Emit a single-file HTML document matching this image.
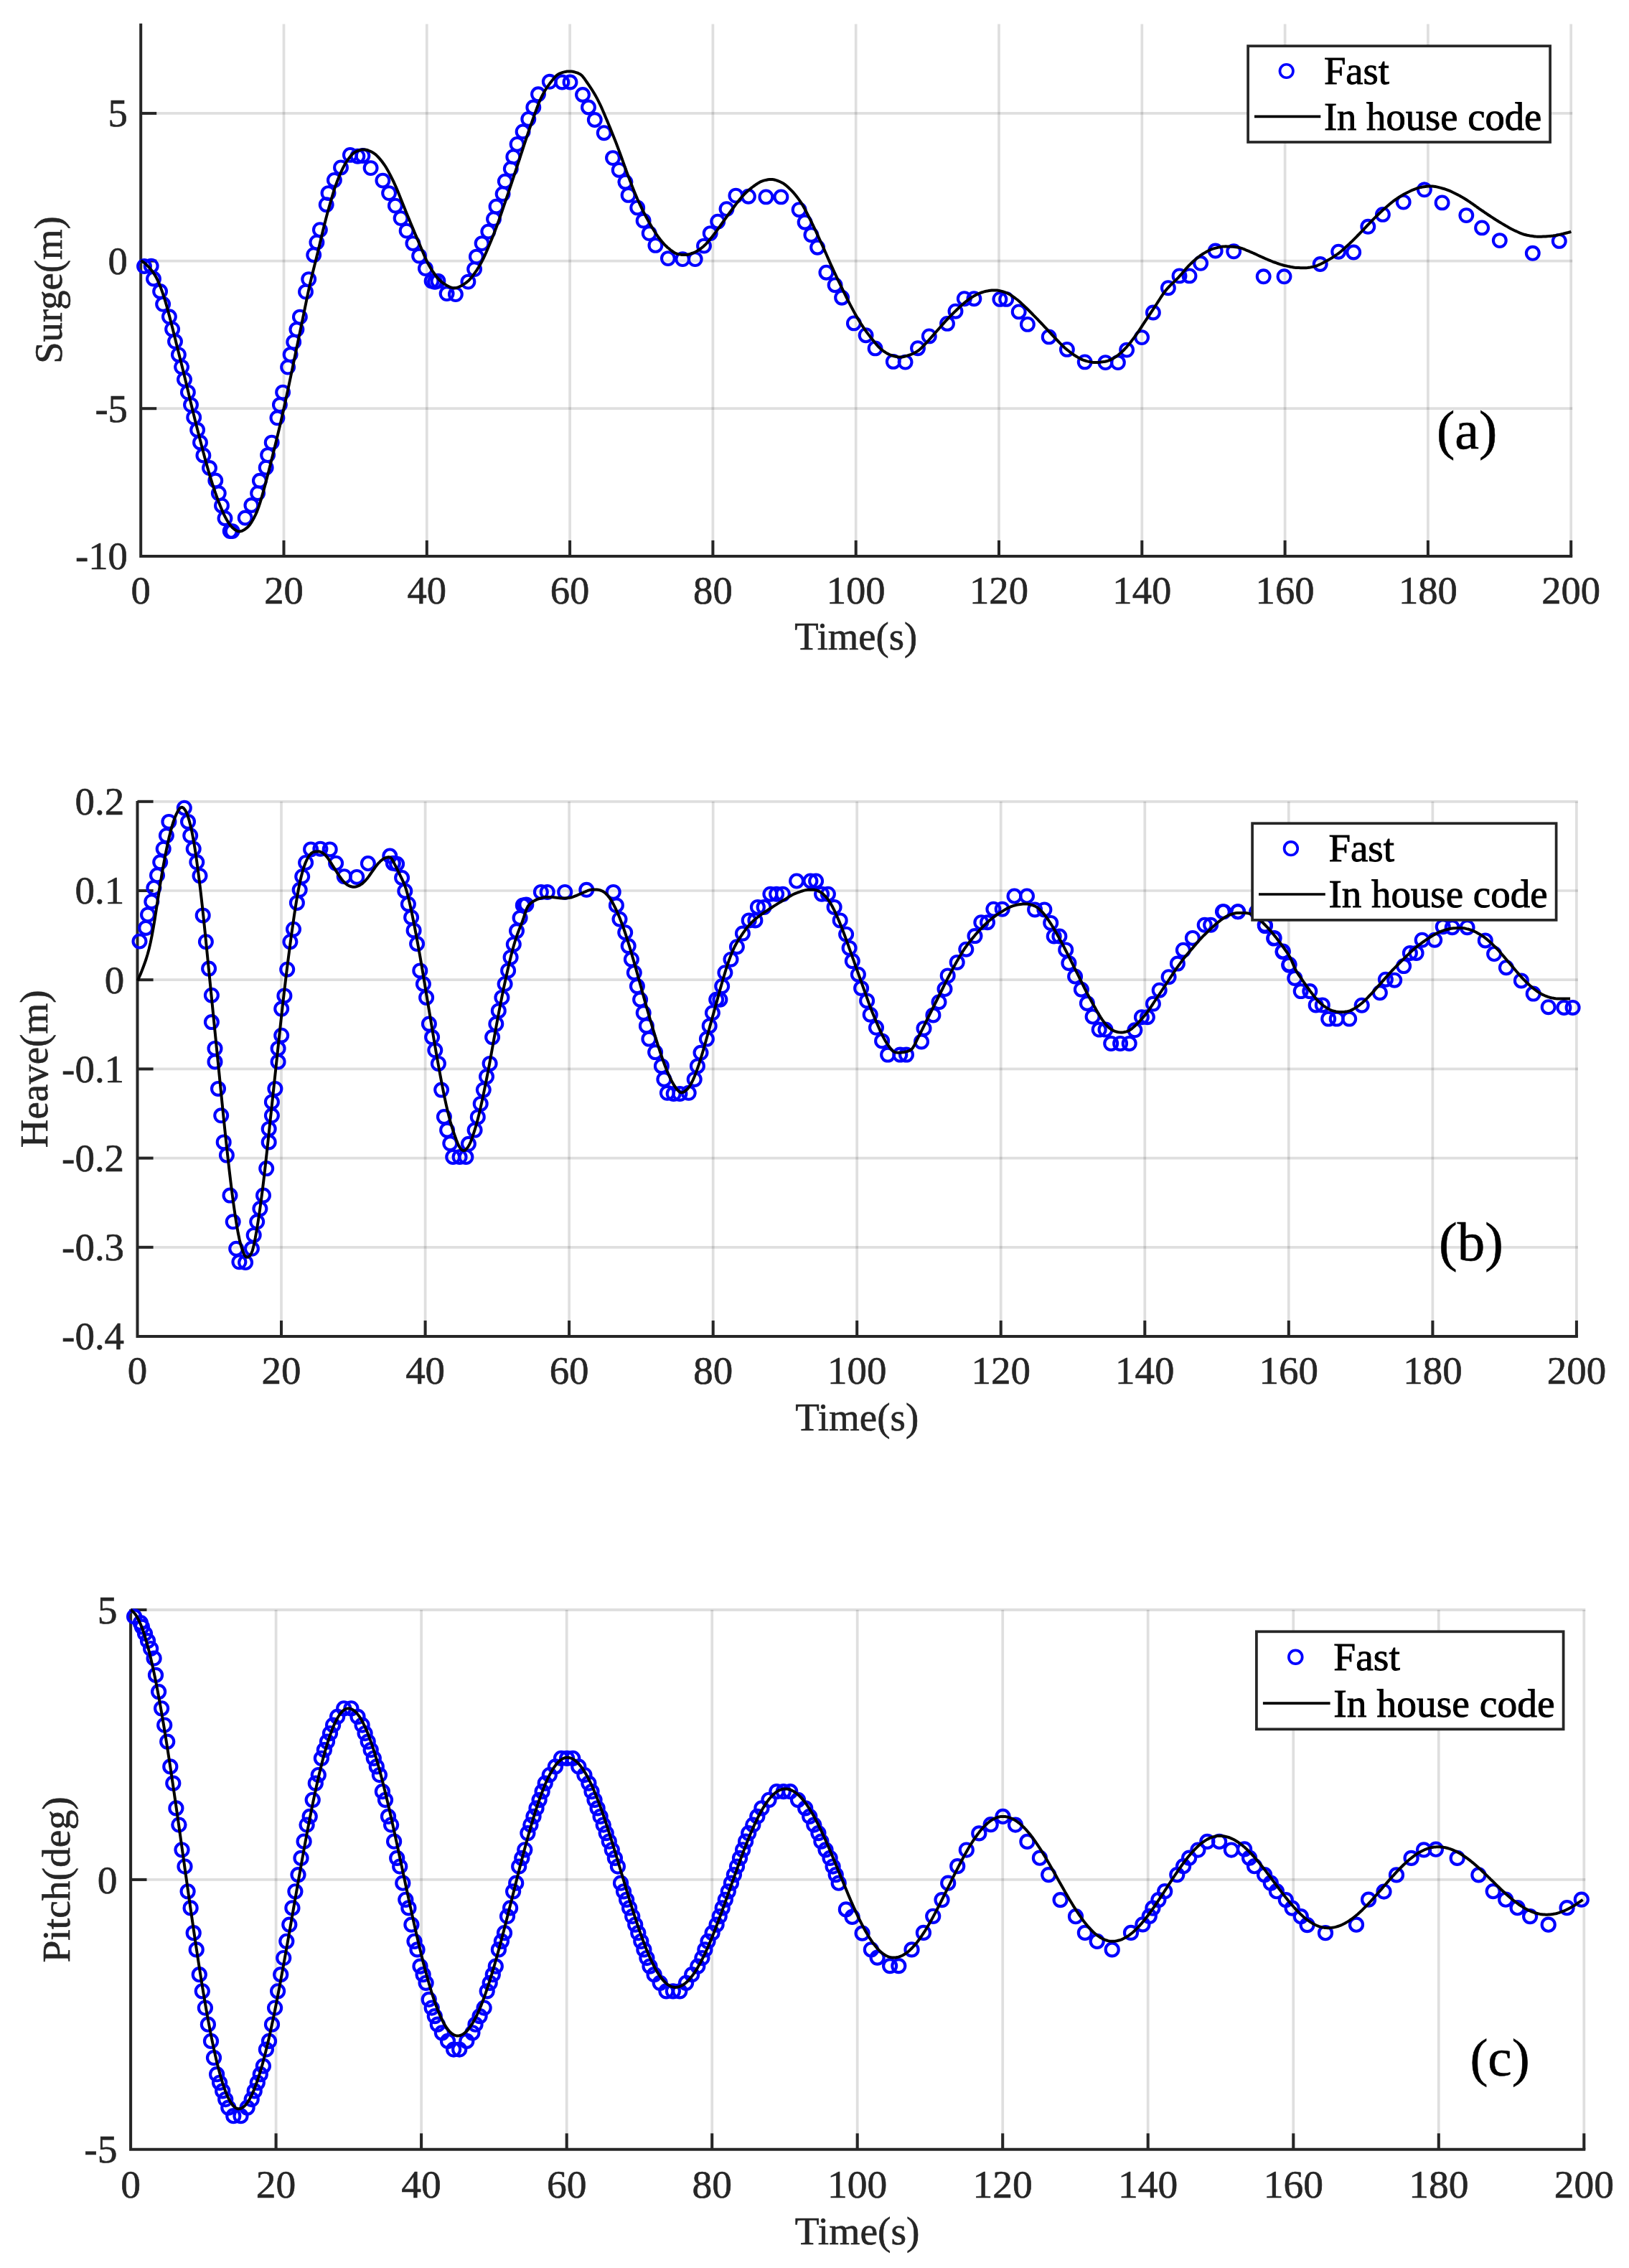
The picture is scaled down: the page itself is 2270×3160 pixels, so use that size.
<!DOCTYPE html>
<html><head><meta charset="utf-8"><title>Surge, heave and pitch response</title>
<style>html,body{margin:0;padding:0;background:#fff}svg{display:block}</style></head>
<body><svg width="2270" height="3160" viewBox="0 0 2270 3160">
<rect width="2270" height="3160" fill="#fff"/>
<g stroke="#262626" stroke-opacity="0.15" stroke-width="3.70" fill="none">
<line x1="395.5" y1="33.4" x2="395.5" y2="774.9"/>
<line x1="594.8" y1="33.4" x2="594.8" y2="774.9"/>
<line x1="794.1" y1="33.4" x2="794.1" y2="774.9"/>
<line x1="993.4" y1="33.4" x2="993.4" y2="774.9"/>
<line x1="1192.7" y1="33.4" x2="1192.7" y2="774.9"/>
<line x1="1392.0" y1="33.4" x2="1392.0" y2="774.9"/>
<line x1="1591.3" y1="33.4" x2="1591.3" y2="774.9"/>
<line x1="1790.6" y1="33.4" x2="1790.6" y2="774.9"/>
<line x1="1989.9" y1="33.4" x2="1989.9" y2="774.9"/>
<line x1="2189.2" y1="33.4" x2="2189.2" y2="774.9"/>
<line x1="196.2" y1="157.9" x2="2191.2" y2="157.9"/>
<line x1="196.2" y1="363.6" x2="2191.2" y2="363.6"/>
<line x1="196.2" y1="569.2" x2="2191.2" y2="569.2"/>
</g>
<g stroke="#262626" stroke-width="4.00" fill="none" stroke-linecap="butt">
<path d="M196.2,32.7V774.9H2191.2" stroke-linejoin="miter"/>
<line x1="395.5" y1="774.9" x2="395.5" y2="752.9"/>
<line x1="594.8" y1="774.9" x2="594.8" y2="752.9"/>
<line x1="794.1" y1="774.9" x2="794.1" y2="752.9"/>
<line x1="993.4" y1="774.9" x2="993.4" y2="752.9"/>
<line x1="1192.7" y1="774.9" x2="1192.7" y2="752.9"/>
<line x1="1392.0" y1="774.9" x2="1392.0" y2="752.9"/>
<line x1="1591.3" y1="774.9" x2="1591.3" y2="752.9"/>
<line x1="1790.6" y1="774.9" x2="1790.6" y2="752.9"/>
<line x1="1989.9" y1="774.9" x2="1989.9" y2="752.9"/>
<line x1="2189.2" y1="774.9" x2="2189.2" y2="752.9"/>
<line x1="196.2" y1="157.9" x2="218.2" y2="157.9"/>
<line x1="196.2" y1="363.6" x2="218.2" y2="363.6"/>
<line x1="196.2" y1="569.2" x2="218.2" y2="569.2"/>
</g>
<g font-family="'Liberation Serif', serif" font-size="54.00" fill="#262626" stroke="#262626" stroke-width="0.6">
<text transform="translate(196.2,840.9) scale(1.012,1)" text-anchor="middle">0</text>
<text transform="translate(395.5,840.9) scale(1.012,1)" text-anchor="middle">20</text>
<text transform="translate(594.8,840.9) scale(1.012,1)" text-anchor="middle">40</text>
<text transform="translate(794.1,840.9) scale(1.012,1)" text-anchor="middle">60</text>
<text transform="translate(993.4,840.9) scale(1.012,1)" text-anchor="middle">80</text>
<text transform="translate(1192.7,840.9) scale(1.012,1)" text-anchor="middle">100</text>
<text transform="translate(1392.0,840.9) scale(1.012,1)" text-anchor="middle">120</text>
<text transform="translate(1591.3,840.9) scale(1.012,1)" text-anchor="middle">140</text>
<text transform="translate(1790.6,840.9) scale(1.012,1)" text-anchor="middle">160</text>
<text transform="translate(1989.9,840.9) scale(1.012,1)" text-anchor="middle">180</text>
<text transform="translate(2189.2,840.9) scale(1.012,1)" text-anchor="middle">200</text>
<text transform="translate(177.9,176.2) scale(1.012,1)" text-anchor="end">5</text>
<text transform="translate(177.9,381.9) scale(1.012,1)" text-anchor="end">0</text>
<text transform="translate(177.9,587.5) scale(1.012,1)" text-anchor="end">-5</text>
<text transform="translate(177.9,793.2) scale(1.012,1)" text-anchor="end">-10</text>
<text transform="translate(1192.7,905.3) scale(1.012,1)" text-anchor="middle">Time(s)</text>
<text transform="translate(85.6,404.1) rotate(-90) scale(1.012,1)" text-anchor="middle">Surge(m)</text>
</g>
<g fill="none" stroke="#0000ff" stroke-width="4.10">
<circle cx="201.0" cy="371.0" r="8.90"/>
<circle cx="210.7" cy="370.7" r="8.90"/>
<circle cx="214.0" cy="388.5" r="8.90"/>
<circle cx="223.1" cy="406.0" r="8.90"/>
<circle cx="227.1" cy="423.8" r="8.90"/>
<circle cx="235.9" cy="441.3" r="8.90"/>
<circle cx="240.1" cy="458.7" r="8.90"/>
<circle cx="244.0" cy="475.8" r="8.90"/>
<circle cx="248.9" cy="494.2" r="8.90"/>
<circle cx="253.1" cy="511.3" r="8.90"/>
<circle cx="257.0" cy="528.8" r="8.90"/>
<circle cx="261.9" cy="546.6" r="8.90"/>
<circle cx="266.0" cy="564.1" r="8.90"/>
<circle cx="270.2" cy="581.6" r="8.90"/>
<circle cx="275.1" cy="599.0" r="8.90"/>
<circle cx="279.0" cy="616.5" r="8.90"/>
<circle cx="283.4" cy="634.5" r="8.90"/>
<circle cx="292.0" cy="652.0" r="8.90"/>
<circle cx="300.3" cy="669.5" r="8.90"/>
<circle cx="304.8" cy="687.3" r="8.90"/>
<circle cx="309.0" cy="704.4" r="8.90"/>
<circle cx="313.5" cy="722.2" r="8.90"/>
<circle cx="323.6" cy="740.1" r="8.90"/>
<circle cx="320.7" cy="740.1" r="8.90"/>
<circle cx="341.7" cy="721.5" r="8.90"/>
<circle cx="350.4" cy="704.0" r="8.90"/>
<circle cx="359.1" cy="687.2" r="8.90"/>
<circle cx="361.9" cy="669.8" r="8.90"/>
<circle cx="370.7" cy="651.6" r="8.90"/>
<circle cx="373.1" cy="634.1" r="8.90"/>
<circle cx="378.7" cy="616.6" r="8.90"/>
<circle cx="386.4" cy="582.3" r="8.90"/>
<circle cx="389.9" cy="564.1" r="8.90"/>
<circle cx="394.1" cy="546.6" r="8.90"/>
<circle cx="401.1" cy="511.6" r="8.90"/>
<circle cx="404.6" cy="494.1" r="8.90"/>
<circle cx="409.2" cy="476.6" r="8.90"/>
<circle cx="413.4" cy="459.1" r="8.90"/>
<circle cx="417.9" cy="441.6" r="8.90"/>
<circle cx="426.0" cy="406.6" r="8.90"/>
<circle cx="430.2" cy="389.1" r="8.90"/>
<circle cx="437.2" cy="355.2" r="8.90"/>
<circle cx="441.4" cy="337.7" r="8.90"/>
<circle cx="445.9" cy="320.2" r="8.90"/>
<circle cx="454.7" cy="285.2" r="8.90"/>
<circle cx="457.5" cy="269.1" r="8.90"/>
<circle cx="465.9" cy="250.9" r="8.90"/>
<circle cx="475.0" cy="233.4" r="8.90"/>
<circle cx="487.9" cy="215.9" r="8.90"/>
<circle cx="498.4" cy="217.7" r="8.90"/>
<circle cx="505.4" cy="217.0" r="8.90"/>
<circle cx="516.6" cy="234.1" r="8.90"/>
<circle cx="533.4" cy="251.6" r="8.90"/>
<circle cx="542.1" cy="269.1" r="8.90"/>
<circle cx="550.9" cy="286.6" r="8.90"/>
<circle cx="558.6" cy="304.1" r="8.90"/>
<circle cx="566.6" cy="321.6" r="8.90"/>
<circle cx="575.4" cy="339.1" r="8.90"/>
<circle cx="584.1" cy="356.6" r="8.90"/>
<circle cx="592.9" cy="374.1" r="8.90"/>
<circle cx="601.6" cy="391.6" r="8.90"/>
<circle cx="610.4" cy="391.6" r="8.90"/>
<circle cx="622.6" cy="409.1" r="8.90"/>
<circle cx="634.9" cy="410.1" r="8.90"/>
<circle cx="652.4" cy="392.6" r="8.90"/>
<circle cx="661.1" cy="375.1" r="8.90"/>
<circle cx="663.9" cy="357.6" r="8.90"/>
<circle cx="671.6" cy="339.1" r="8.90"/>
<circle cx="680.3" cy="322.7" r="8.90"/>
<circle cx="688.0" cy="305.2" r="8.90"/>
<circle cx="691.5" cy="287.7" r="8.90"/>
<circle cx="700.6" cy="270.2" r="8.90"/>
<circle cx="703.8" cy="252.7" r="8.90"/>
<circle cx="711.8" cy="235.2" r="8.90"/>
<circle cx="715.3" cy="218.4" r="8.90"/>
<circle cx="720.6" cy="200.9" r="8.90"/>
<circle cx="728.6" cy="183.4" r="8.90"/>
<circle cx="736.3" cy="165.9" r="8.90"/>
<circle cx="743.3" cy="149.5" r="8.90"/>
<circle cx="750.0" cy="131.3" r="8.90"/>
<circle cx="765.8" cy="113.8" r="8.90"/>
<circle cx="783.3" cy="114.5" r="8.90"/>
<circle cx="794.5" cy="114.5" r="8.90"/>
<circle cx="812.0" cy="132.0" r="8.90"/>
<circle cx="820.0" cy="149.5" r="8.90"/>
<circle cx="828.8" cy="167.0" r="8.90"/>
<circle cx="841.7" cy="185.2" r="8.90"/>
<circle cx="854.0" cy="220.1" r="8.90"/>
<circle cx="862.7" cy="236.9" r="8.90"/>
<circle cx="871.4" cy="253.7" r="8.90"/>
<circle cx="875.6" cy="271.9" r="8.90"/>
<circle cx="888.2" cy="289.4" r="8.90"/>
<circle cx="896.6" cy="307.6" r="8.90"/>
<circle cx="904.7" cy="325.1" r="8.90"/>
<circle cx="913.4" cy="341.9" r="8.90"/>
<circle cx="930.9" cy="360.1" r="8.90"/>
<circle cx="951.2" cy="361.1" r="8.90"/>
<circle cx="968.7" cy="361.1" r="8.90"/>
<circle cx="981.0" cy="342.6" r="8.90"/>
<circle cx="989.7" cy="325.1" r="8.90"/>
<circle cx="1000.2" cy="308.7" r="8.90"/>
<circle cx="1012.5" cy="291.2" r="8.90"/>
<circle cx="1025.4" cy="272.6" r="8.90"/>
<circle cx="1042.9" cy="273.7" r="8.90"/>
<circle cx="1067.4" cy="274.4" r="8.90"/>
<circle cx="1088.4" cy="274.4" r="8.90"/>
<circle cx="1113.6" cy="292.2" r="8.90"/>
<circle cx="1121.6" cy="309.7" r="8.90"/>
<circle cx="1130.4" cy="327.2" r="8.90"/>
<circle cx="1139.1" cy="344.7" r="8.90"/>
<circle cx="1151.4" cy="379.7" r="8.90"/>
<circle cx="1163.6" cy="397.2" r="8.90"/>
<circle cx="1173.1" cy="414.7" r="8.90"/>
<circle cx="1189.9" cy="450.4" r="8.90"/>
<circle cx="1206.6" cy="467.2" r="8.90"/>
<circle cx="1219.6" cy="485.4" r="8.90"/>
<circle cx="1244.8" cy="503.9" r="8.90"/>
<circle cx="1261.6" cy="504.6" r="8.90"/>
<circle cx="1279.0" cy="485.2" r="8.90"/>
<circle cx="1294.8" cy="468.4" r="8.90"/>
<circle cx="1320.0" cy="450.9" r="8.90"/>
<circle cx="1331.5" cy="433.7" r="8.90"/>
<circle cx="1343.8" cy="416.2" r="8.90"/>
<circle cx="1357.4" cy="416.2" r="8.90"/>
<circle cx="1393.4" cy="416.9" r="8.90"/>
<circle cx="1402.2" cy="416.9" r="8.90"/>
<circle cx="1419.7" cy="434.4" r="8.90"/>
<circle cx="1431.9" cy="451.9" r="8.90"/>
<circle cx="1461.7" cy="469.4" r="8.90"/>
<circle cx="1486.9" cy="486.9" r="8.90"/>
<circle cx="1511.7" cy="504.4" r="8.90"/>
<circle cx="1540.4" cy="505.1" r="8.90"/>
<circle cx="1557.9" cy="505.1" r="8.90"/>
<circle cx="1570.1" cy="487.6" r="8.90"/>
<circle cx="1591.1" cy="470.1" r="8.90"/>
<circle cx="1606.9" cy="435.5" r="8.90"/>
<circle cx="1627.9" cy="401.2" r="8.90"/>
<circle cx="1643.5" cy="384.4" r="8.90"/>
<circle cx="1657.5" cy="384.4" r="8.90"/>
<circle cx="1673.1" cy="366.8" r="8.90"/>
<circle cx="1693.7" cy="349.5" r="8.90"/>
<circle cx="1719.2" cy="350.3" r="8.90"/>
<circle cx="1760.7" cy="385.3" r="8.90"/>
<circle cx="1789.5" cy="385.3" r="8.90"/>
<circle cx="1839.7" cy="368.0" r="8.90"/>
<circle cx="1865.2" cy="350.7" r="8.90"/>
<circle cx="1886.2" cy="351.5" r="8.90"/>
<circle cx="1906.3" cy="315.8" r="8.90"/>
<circle cx="1926.9" cy="298.9" r="8.90"/>
<circle cx="1955.7" cy="281.6" r="8.90"/>
<circle cx="1984.9" cy="264.3" r="8.90"/>
<circle cx="2009.6" cy="282.4" r="8.90"/>
<circle cx="2043.3" cy="300.1" r="8.90"/>
<circle cx="2065.1" cy="317.4" r="8.90"/>
<circle cx="2089.8" cy="335.1" r="8.90"/>
<circle cx="2135.8" cy="352.8" r="8.90"/>
<circle cx="2172.8" cy="335.9" r="8.90"/>
<circle cx="606.0" cy="392.8" r="8.90"/>
</g>
<path d="M196.1,362.9L198.1,364.1L200.1,365.5L202.1,367.0L204.1,368.8L206.1,370.8L208.1,372.9L210.1,375.2L212.1,377.7L214.1,380.6L216.1,383.8L218.1,387.3L220.1,391.4L222.1,396.0L224.1,401.1L226.1,406.7L228.1,412.6L230.1,419.0L232.1,425.8L234.1,433.1L236.1,440.6L238.1,448.3L240.1,456.1L242.1,464.0L244.1,472.1L246.1,480.2L248.1,488.2L250.1,496.2L252.1,504.1L254.1,512.1L256.1,520.2L258.1,528.4L260.1,536.7L262.1,545.1L264.1,553.6L266.1,562.0L268.1,570.2L270.1,578.4L272.1,586.4L274.1,594.4L276.1,602.2L278.1,610.1L280.1,617.8L282.1,625.5L284.1,633.0L286.1,640.4L288.1,647.6L290.1,654.7L292.1,661.6L294.1,668.2L296.1,674.6L298.1,680.7L300.1,686.6L302.1,692.2L304.1,697.6L306.1,702.7L308.1,707.7L310.1,712.4L312.1,716.9L314.1,720.9L316.1,724.5L318.1,727.8L320.1,730.7L322.1,733.3L324.1,735.4L326.1,737.1L328.1,738.5L330.1,739.6L332.1,740.3L334.1,740.4L336.1,740.1L338.1,739.3L340.1,738.2L342.1,736.9L344.1,735.4L346.1,733.5L348.1,731.2L350.1,728.2L352.1,724.8L354.1,721.2L356.1,717.1L358.1,712.6L360.1,707.4L362.1,701.4L364.1,694.8L366.1,687.8L368.1,680.6L370.1,673.2L372.1,665.6L374.1,657.9L376.1,650.0L378.1,642.1L380.1,634.1L382.1,626.0L384.1,617.8L386.1,609.6L388.1,601.3L390.1,592.9L392.1,584.3L394.1,575.6L396.1,566.6L398.1,557.5L400.1,548.2L402.1,538.8L404.1,529.4L406.1,519.9L408.1,510.2L410.1,500.6L412.1,491.0L414.1,481.3L416.1,471.7L418.1,462.1L420.1,452.5L422.1,442.9L424.1,433.2L426.1,423.4L428.1,413.6L430.1,404.1L432.1,395.1L434.1,386.6L436.1,378.5L438.1,370.6L440.1,362.6L442.1,354.4L444.1,346.1L446.1,337.7L448.1,329.3L450.1,321.0L452.1,312.9L454.1,305.1L456.1,297.6L458.1,290.4L460.1,283.2L462.1,276.3L464.1,269.5L466.1,263.2L468.1,257.3L470.1,251.9L472.1,246.9L474.1,242.2L476.1,237.8L478.1,233.7L480.1,229.9L482.1,226.5L484.1,223.5L486.1,220.7L488.1,218.1L490.1,215.8L492.1,213.8L494.1,212.3L496.1,211.2L498.1,210.4L500.1,209.6L502.1,209.0L504.1,208.6L506.1,208.4L508.1,208.4L510.1,208.7L512.1,209.2L514.1,210.0L516.1,210.8L518.1,211.8L520.1,212.9L522.1,214.3L524.1,215.9L526.1,217.9L528.1,220.0L530.1,222.4L532.1,224.8L534.1,227.5L536.1,230.3L538.1,233.5L540.1,236.9L542.1,240.6L544.1,244.4L546.1,248.4L548.1,252.5L550.1,256.8L552.1,261.3L554.1,266.1L556.1,271.0L558.1,276.0L560.1,281.1L562.1,286.1L564.1,291.0L566.1,295.9L568.1,300.7L570.1,305.6L572.1,310.4L574.1,315.3L576.1,320.1L578.1,324.9L580.1,329.6L582.1,334.3L584.1,339.0L586.1,343.7L588.1,348.6L590.1,353.3L592.1,358.0L594.1,362.4L596.1,366.5L598.1,370.3L600.1,373.7L602.1,376.8L604.1,379.7L606.1,382.5L608.1,385.2L610.1,387.6L612.1,389.8L614.1,391.7L616.1,393.4L618.1,394.8L620.1,396.1L622.1,397.4L624.1,398.5L626.1,399.5L628.1,400.3L630.1,400.9L632.1,401.2L634.1,401.2L636.1,400.9L638.1,400.3L640.1,399.5L642.1,398.5L644.1,397.4L646.1,396.1L648.1,394.9L650.1,393.4L652.1,391.8L654.1,389.8L656.1,387.6L658.1,385.1L660.1,382.5L662.1,379.7L664.1,376.8L666.1,373.7L668.1,370.5L670.1,366.9L672.1,363.1L674.1,359.0L676.1,354.7L678.1,350.2L680.1,345.5L682.1,340.7L684.1,335.9L686.1,331.0L688.1,326.0L690.1,320.8L692.1,315.5L694.1,310.0L696.1,304.3L698.1,298.6L700.1,292.8L702.1,286.9L704.1,281.1L706.1,275.2L708.1,269.3L710.1,263.4L712.1,257.4L714.1,251.3L716.1,245.3L718.1,239.2L720.1,233.2L722.1,227.1L724.1,221.1L726.1,215.0L728.1,208.9L730.1,202.7L732.1,196.7L734.1,190.6L736.1,184.7L738.1,178.9L740.1,173.2L742.1,167.5L744.1,161.8L746.1,156.2L748.1,150.7L750.1,145.5L752.1,140.6L754.1,136.2L756.1,132.1L758.1,128.5L760.1,125.1L762.1,122.0L764.1,119.1L766.1,116.3L768.1,113.7L770.1,111.2L772.1,108.7L774.1,106.5L776.1,104.7L778.1,103.3L780.1,102.4L782.1,101.6L784.1,100.9L786.1,100.4L788.1,99.9L790.1,99.6L792.1,99.4L794.1,99.4L796.1,99.5L798.1,99.8L800.1,100.2L802.1,100.8L804.1,101.4L806.1,102.2L808.1,103.2L810.1,104.6L812.1,106.7L814.1,109.2L816.1,112.1L818.1,115.0L820.1,117.8L822.1,120.8L824.1,123.8L826.1,127.0L828.1,130.3L830.1,133.8L832.1,137.4L834.1,141.3L836.1,145.4L838.1,149.7L840.1,154.2L842.1,158.9L844.1,163.7L846.1,168.4L848.1,173.2L850.1,178.0L852.1,182.9L854.1,187.9L856.1,193.0L858.1,198.1L860.1,203.3L862.1,208.6L864.1,214.0L866.1,219.5L868.1,225.1L870.1,230.7L872.1,236.2L874.1,241.7L876.1,247.0L878.1,252.2L880.1,257.4L882.1,262.5L884.1,267.5L886.1,272.3L888.1,277.0L890.1,281.4L892.1,285.7L894.1,289.9L896.1,294.0L898.1,297.9L900.1,301.7L902.1,305.4L904.1,309.0L906.1,312.5L908.1,316.0L910.1,319.3L912.1,322.5L914.1,325.6L916.1,328.5L918.1,331.2L920.1,333.8L922.1,336.2L924.1,338.6L926.1,340.8L928.1,342.8L930.1,344.7L932.1,346.3L934.1,348.0L936.1,349.5L938.1,350.9L940.1,352.2L942.1,353.2L944.1,353.9L946.1,354.3L948.1,354.6L950.1,354.9L952.1,355.1L954.1,355.1L956.1,355.1L958.1,354.8L960.1,354.3L962.1,353.7L964.1,353.0L966.1,352.3L968.1,351.5L970.1,350.5L972.1,349.3L974.1,348.0L976.1,346.6L978.1,345.1L980.1,343.4L982.1,341.6L984.1,339.6L986.1,337.4L988.1,335.1L990.1,332.6L992.1,330.2L994.1,327.6L996.1,325.1L998.1,322.4L1000.1,319.6L1002.1,316.8L1004.1,314.0L1006.1,311.2L1008.1,308.4L1010.1,305.6L1012.1,302.8L1014.1,300.0L1016.1,297.3L1018.1,294.5L1020.1,291.8L1022.1,289.2L1024.1,286.5L1026.1,283.9L1028.1,281.2L1030.1,278.7L1032.1,276.2L1034.1,273.9L1036.1,271.8L1038.1,269.7L1040.1,267.8L1042.1,266.0L1044.1,264.2L1046.1,262.6L1048.1,261.0L1050.1,259.5L1052.1,258.1L1054.1,256.7L1056.1,255.4L1058.1,254.2L1060.1,253.1L1062.1,252.3L1064.1,251.6L1066.1,251.1L1068.1,250.7L1070.1,250.3L1072.1,250.1L1074.1,250.0L1076.1,250.0L1078.1,250.2L1080.1,250.7L1082.1,251.3L1084.1,252.0L1086.1,252.8L1088.1,253.7L1090.1,254.7L1092.1,255.9L1094.1,257.4L1096.1,259.0L1098.1,260.8L1100.1,262.7L1102.1,264.7L1104.1,266.7L1106.1,268.9L1108.1,271.2L1110.1,273.7L1112.1,276.4L1114.1,279.1L1116.1,282.1L1118.1,285.2L1120.1,288.7L1122.1,292.3L1124.1,296.1L1126.1,300.1L1128.1,304.1L1130.1,308.1L1132.1,312.2L1134.1,316.3L1136.1,320.5L1138.1,324.8L1140.1,329.1L1142.1,333.5L1144.1,337.8L1146.1,342.3L1148.1,346.7L1150.1,351.3L1152.1,355.8L1154.1,360.4L1156.1,364.9L1158.1,369.3L1160.1,373.7L1162.1,378.0L1164.1,382.3L1166.1,386.6L1168.1,390.8L1170.1,395.0L1172.1,399.1L1174.1,403.2L1176.1,407.3L1178.1,411.4L1180.1,415.5L1182.1,419.4L1184.1,423.3L1186.1,427.1L1188.1,430.9L1190.1,434.6L1192.1,438.2L1194.1,441.7L1196.1,445.2L1198.1,448.5L1200.1,451.7L1202.1,454.7L1204.1,457.7L1206.1,460.5L1208.1,463.3L1210.1,465.9L1212.1,468.5L1214.1,471.1L1216.1,473.6L1218.1,476.1L1220.1,478.5L1222.1,480.9L1224.1,483.1L1226.1,485.1L1228.1,486.9L1230.1,488.4L1232.1,489.8L1234.1,491.1L1236.1,492.4L1238.1,493.4L1240.1,494.3L1242.1,495.0L1244.1,495.7L1246.1,496.2L1248.1,496.7L1250.1,497.1L1252.1,497.4L1254.1,497.5L1256.1,497.4L1258.1,497.2L1260.1,496.7L1262.1,496.2L1264.1,495.6L1266.1,495.0L1268.1,494.3L1270.1,493.6L1272.1,492.7L1274.1,491.8L1276.1,490.7L1278.1,489.6L1280.1,488.2L1282.1,486.5L1284.1,484.7L1286.1,482.6L1288.1,480.5L1290.1,478.4L1292.1,476.3L1294.1,474.1L1296.1,471.9L1298.1,469.7L1300.1,467.4L1302.1,465.1L1304.1,462.8L1306.1,460.5L1308.1,458.2L1310.1,456.0L1312.1,453.7L1314.1,451.4L1316.1,449.1L1318.1,446.9L1320.1,444.8L1322.1,442.7L1324.1,440.6L1326.1,438.6L1328.1,436.6L1330.1,434.6L1332.1,432.7L1334.1,430.8L1336.1,428.9L1338.1,427.1L1340.1,425.2L1342.1,423.5L1344.1,421.7L1346.1,420.1L1348.1,418.6L1350.1,417.1L1352.1,415.7L1354.1,414.4L1356.1,413.1L1358.1,411.9L1360.1,410.8L1362.1,409.9L1364.1,409.0L1366.1,408.2L1368.1,407.5L1370.1,406.8L1372.1,406.2L1374.1,405.8L1376.1,405.4L1378.1,405.1L1380.1,404.8L1382.1,404.6L1384.1,404.4L1386.1,404.4L1388.1,404.4L1390.1,404.6L1392.1,405.0L1394.1,405.4L1396.1,405.9L1398.1,406.5L1400.1,407.1L1402.1,407.8L1404.1,408.7L1406.1,409.7L1408.1,410.9L1410.1,412.2L1412.1,413.6L1414.1,415.0L1416.1,416.5L1418.1,418.0L1420.1,419.7L1422.1,421.5L1424.1,423.4L1426.1,425.2L1428.1,427.1L1430.1,429.0L1432.1,431.0L1434.1,433.0L1436.1,435.0L1438.1,437.0L1440.1,439.1L1442.1,441.1L1444.1,443.2L1446.1,445.2L1448.1,447.3L1450.1,449.4L1452.1,451.5L1454.1,453.7L1456.1,455.8L1458.1,457.9L1460.1,460.1L1462.1,462.3L1464.1,464.4L1466.1,466.6L1468.1,468.7L1470.1,470.8L1472.1,472.9L1474.1,475.0L1476.1,477.1L1478.1,479.2L1480.1,481.2L1482.1,483.1L1484.1,484.9L1486.1,486.6L1488.1,488.2L1490.1,489.8L1492.1,491.4L1494.1,492.8L1496.1,494.2L1498.1,495.5L1500.1,496.7L1502.1,497.9L1504.1,499.0L1506.1,500.1L1508.1,501.1L1510.1,501.9L1512.1,502.5L1514.1,503.1L1516.1,503.6L1518.1,504.0L1520.1,504.4L1522.1,504.8L1524.1,505.0L1526.1,505.1L1528.1,505.1L1530.1,505.0L1532.1,504.8L1534.1,504.6L1536.1,504.3L1538.1,504.1L1540.1,503.7L1542.1,503.3L1544.1,502.7L1546.1,501.9L1548.1,500.9L1550.1,499.9L1552.1,498.7L1554.1,497.5L1556.1,496.2L1558.1,494.8L1560.1,493.1L1562.1,491.4L1564.1,489.5L1566.1,487.5L1568.1,485.4L1570.1,483.3L1572.1,481.0L1574.1,478.6L1576.1,476.0L1578.1,473.4L1580.1,470.8L1582.1,468.0L1584.1,465.2L1586.1,462.3L1588.1,459.3L1590.1,456.3L1592.1,453.2L1594.1,450.1L1596.1,447.1L1598.1,444.1L1600.1,441.1L1602.1,438.1L1604.1,435.1L1606.1,432.1L1608.1,429.1L1610.1,426.1L1612.1,423.0L1614.1,419.9L1616.1,416.7L1618.1,413.6L1620.1,410.6L1622.1,407.7L1624.1,405.1L1626.1,402.7L1628.1,400.5L1630.1,398.4L1632.1,396.4L1634.1,394.5L1636.1,392.6L1638.1,390.7L1640.1,388.7L1642.1,386.6L1644.1,384.4L1646.1,382.2L1648.1,379.8L1650.1,377.5L1652.1,375.1L1654.1,372.8L1656.1,370.7L1658.1,368.6L1660.1,366.7L1662.1,364.8L1664.1,363.0L1666.1,361.3L1668.1,359.6L1670.1,358.0L1672.1,356.5L1674.1,355.1L1676.1,353.8L1678.1,352.6L1680.1,351.4L1682.1,350.3L1684.1,349.2L1686.1,348.2L1688.1,347.4L1690.1,346.7L1692.1,346.1L1694.1,345.6L1696.1,345.1L1698.1,344.6L1700.1,344.2L1702.1,343.8L1704.1,343.6L1706.1,343.4L1708.1,343.3L1710.1,343.4L1712.1,343.4L1714.1,343.5L1716.1,343.7L1718.1,343.8L1720.1,344.0L1722.1,344.3L1724.1,344.5L1726.1,344.9L1728.1,345.3L1730.1,345.9L1732.1,346.6L1734.1,347.4L1736.1,348.3L1738.1,349.1L1740.1,349.9L1742.1,350.8L1744.1,351.6L1746.1,352.5L1748.1,353.4L1750.1,354.3L1752.1,355.3L1754.1,356.2L1756.1,357.1L1758.1,358.0L1760.1,358.9L1762.1,359.8L1764.1,360.7L1766.1,361.5L1768.1,362.4L1770.1,363.2L1772.1,364.0L1774.1,364.8L1776.1,365.5L1778.1,366.2L1780.1,367.0L1782.1,367.7L1784.1,368.3L1786.1,368.9L1788.1,369.5L1790.1,370.0L1792.1,370.4L1794.1,370.9L1796.1,371.3L1798.1,371.7L1800.1,372.1L1802.1,372.4L1804.1,372.7L1806.1,372.9L1808.1,373.0L1810.1,373.1L1812.1,373.2L1814.1,373.3L1816.1,373.3L1818.1,373.3L1820.1,373.2L1822.1,373.0L1824.1,372.7L1826.1,372.4L1828.1,372.0L1830.1,371.6L1832.1,371.1L1834.1,370.5L1836.1,369.8L1838.1,368.9L1840.1,368.0L1842.1,367.0L1844.1,365.9L1846.1,364.8L1848.1,363.8L1850.1,362.7L1852.1,361.6L1854.1,360.4L1856.1,359.2L1858.1,357.9L1860.1,356.6L1862.1,355.2L1864.1,353.8L1866.1,352.3L1868.1,350.7L1870.1,349.0L1872.1,347.2L1874.1,345.4L1876.1,343.6L1878.1,341.7L1880.1,339.9L1882.1,338.0L1884.1,336.1L1886.1,334.1L1888.1,332.1L1890.1,330.1L1892.1,328.0L1894.1,326.0L1896.1,323.9L1898.1,321.9L1900.1,319.8L1902.1,317.7L1904.1,315.5L1906.1,313.4L1908.1,311.3L1910.1,309.2L1912.1,307.1L1914.1,305.1L1916.1,303.1L1918.1,301.1L1920.1,299.2L1922.1,297.3L1924.1,295.4L1926.1,293.5L1928.1,291.7L1930.1,289.9L1932.1,288.2L1934.1,286.5L1936.1,284.8L1938.1,283.1L1940.1,281.5L1942.1,279.9L1944.1,278.5L1946.1,277.1L1948.1,275.7L1950.1,274.4L1952.1,273.2L1954.1,272.0L1956.1,270.8L1958.1,269.7L1960.1,268.7L1962.1,267.7L1964.1,266.8L1966.1,265.8L1968.1,264.9L1970.1,264.1L1972.1,263.3L1974.1,262.5L1976.1,261.9L1978.1,261.4L1980.1,261.0L1982.1,260.6L1984.1,260.3L1986.1,260.0L1988.1,259.8L1990.1,259.6L1992.1,259.5L1994.1,259.4L1996.1,259.5L1998.1,259.7L2000.1,260.0L2002.1,260.4L2004.1,260.9L2006.1,261.4L2008.1,261.9L2010.1,262.5L2012.1,263.0L2014.1,263.6L2016.1,264.3L2018.1,265.1L2020.1,265.9L2022.1,266.8L2024.1,267.8L2026.1,268.7L2028.1,269.7L2030.1,270.7L2032.1,271.8L2034.1,272.8L2036.1,274.0L2038.1,275.1L2040.1,276.3L2042.1,277.5L2044.1,278.8L2046.1,280.1L2048.1,281.4L2050.1,282.8L2052.1,284.2L2054.1,285.6L2056.1,287.0L2058.1,288.5L2060.1,289.9L2062.1,291.3L2064.1,292.7L2066.1,294.0L2068.1,295.4L2070.1,296.8L2072.1,298.1L2074.1,299.5L2076.1,300.8L2078.1,302.1L2080.1,303.4L2082.1,304.7L2084.1,306.0L2086.1,307.2L2088.1,308.5L2090.1,309.7L2092.1,310.9L2094.1,312.1L2096.1,313.3L2098.1,314.5L2100.1,315.6L2102.1,316.8L2104.1,317.9L2106.1,319.0L2108.1,320.0L2110.1,321.0L2112.1,321.9L2114.1,322.8L2116.1,323.7L2118.1,324.6L2120.1,325.4L2122.1,326.1L2124.1,326.8L2126.1,327.3L2128.1,327.8L2130.1,328.1L2132.1,328.5L2134.1,328.8L2136.1,329.1L2138.1,329.4L2140.1,329.6L2142.1,329.7L2144.1,329.7L2146.1,329.7L2148.1,329.7L2150.1,329.6L2152.1,329.5L2154.1,329.4L2156.1,329.2L2158.1,329.1L2160.1,328.9L2162.1,328.7L2164.1,328.5L2166.1,328.2L2168.1,327.9L2170.1,327.5L2172.1,327.1L2174.1,326.6L2176.1,326.2L2178.1,325.8L2180.1,325.3L2182.1,324.8L2184.1,324.3L2186.1,323.7L2188.1,323.2L2189.3,322.7" fill="none" stroke="#000" stroke-width="4.00" stroke-linejoin="round" stroke-linecap="butt"/>
<rect x="1739.1" y="64.1" width="421.0" height="133.9" fill="#fff" stroke="#262626" stroke-width="3.70"/>
<circle cx="1792.7" cy="99.0" r="9.25" fill="none" stroke="#0000ff" stroke-width="3.70"/>
<line x1="1748.0" y1="162.4" x2="1840.3" y2="162.4" stroke="#000" stroke-width="3.60"/>
<g font-family="'Liberation Serif', serif" font-size="54.00" fill="#000" stroke="#000" stroke-width="0.9">
<text transform="translate(1844.9,117.1) scale(1.012,1)" text-anchor="start">Fast</text>
<text transform="translate(1844.9,180.6) scale(1.012,1)" text-anchor="start">In house code</text>
</g>
<text x="2044.2" y="624.7" text-anchor="middle" font-family="'Liberation Serif', serif" font-size="76.0" fill="#000" stroke="#000" stroke-width="0.6">(a)</text>
<g stroke="#262626" stroke-opacity="0.15" stroke-width="3.72" fill="none">
<line x1="392.0" y1="1116.8" x2="392.0" y2="1862.0"/>
<line x1="592.6" y1="1116.8" x2="592.6" y2="1862.0"/>
<line x1="793.1" y1="1116.8" x2="793.1" y2="1862.0"/>
<line x1="993.7" y1="1116.8" x2="993.7" y2="1862.0"/>
<line x1="1194.2" y1="1116.8" x2="1194.2" y2="1862.0"/>
<line x1="1394.7" y1="1116.8" x2="1394.7" y2="1862.0"/>
<line x1="1595.3" y1="1116.8" x2="1595.3" y2="1862.0"/>
<line x1="1795.8" y1="1116.8" x2="1795.8" y2="1862.0"/>
<line x1="1996.4" y1="1116.8" x2="1996.4" y2="1862.0"/>
<line x1="2196.9" y1="1116.8" x2="2196.9" y2="1862.0"/>
<line x1="191.5" y1="1116.8" x2="2198.9" y2="1116.8"/>
<line x1="191.5" y1="1241.0" x2="2198.9" y2="1241.0"/>
<line x1="191.5" y1="1365.2" x2="2198.9" y2="1365.2"/>
<line x1="191.5" y1="1489.4" x2="2198.9" y2="1489.4"/>
<line x1="191.5" y1="1613.6" x2="2198.9" y2="1613.6"/>
<line x1="191.5" y1="1737.8" x2="2198.9" y2="1737.8"/>
</g>
<g stroke="#262626" stroke-width="4.02" fill="none" stroke-linecap="butt">
<path d="M191.5,1116.1V1862.0H2198.9" stroke-linejoin="miter"/>
<line x1="392.0" y1="1862.0" x2="392.0" y2="1839.9"/>
<line x1="592.6" y1="1862.0" x2="592.6" y2="1839.9"/>
<line x1="793.1" y1="1862.0" x2="793.1" y2="1839.9"/>
<line x1="993.7" y1="1862.0" x2="993.7" y2="1839.9"/>
<line x1="1194.2" y1="1862.0" x2="1194.2" y2="1839.9"/>
<line x1="1394.7" y1="1862.0" x2="1394.7" y2="1839.9"/>
<line x1="1595.3" y1="1862.0" x2="1595.3" y2="1839.9"/>
<line x1="1795.8" y1="1862.0" x2="1795.8" y2="1839.9"/>
<line x1="1996.4" y1="1862.0" x2="1996.4" y2="1839.9"/>
<line x1="2196.9" y1="1862.0" x2="2196.9" y2="1839.9"/>
<line x1="191.5" y1="1116.8" x2="213.6" y2="1116.8"/>
<line x1="191.5" y1="1241.0" x2="213.6" y2="1241.0"/>
<line x1="191.5" y1="1365.2" x2="213.6" y2="1365.2"/>
<line x1="191.5" y1="1489.4" x2="213.6" y2="1489.4"/>
<line x1="191.5" y1="1613.6" x2="213.6" y2="1613.6"/>
<line x1="191.5" y1="1737.8" x2="213.6" y2="1737.8"/>
</g>
<g font-family="'Liberation Serif', serif" font-size="54.32" fill="#262626" stroke="#262626" stroke-width="0.6">
<text transform="translate(191.5,1928.4) scale(1.012,1)" text-anchor="middle">0</text>
<text transform="translate(392.0,1928.4) scale(1.012,1)" text-anchor="middle">20</text>
<text transform="translate(592.6,1928.4) scale(1.012,1)" text-anchor="middle">40</text>
<text transform="translate(793.1,1928.4) scale(1.012,1)" text-anchor="middle">60</text>
<text transform="translate(993.7,1928.4) scale(1.012,1)" text-anchor="middle">80</text>
<text transform="translate(1194.2,1928.4) scale(1.012,1)" text-anchor="middle">100</text>
<text transform="translate(1394.7,1928.4) scale(1.012,1)" text-anchor="middle">120</text>
<text transform="translate(1595.3,1928.4) scale(1.012,1)" text-anchor="middle">140</text>
<text transform="translate(1795.8,1928.4) scale(1.012,1)" text-anchor="middle">160</text>
<text transform="translate(1996.4,1928.4) scale(1.012,1)" text-anchor="middle">180</text>
<text transform="translate(2196.9,1928.4) scale(1.012,1)" text-anchor="middle">200</text>
<text transform="translate(173.1,1135.2) scale(1.012,1)" text-anchor="end">0.2</text>
<text transform="translate(173.1,1259.4) scale(1.012,1)" text-anchor="end">0.1</text>
<text transform="translate(173.1,1383.6) scale(1.012,1)" text-anchor="end">0</text>
<text transform="translate(173.1,1507.8) scale(1.012,1)" text-anchor="end">-0.1</text>
<text transform="translate(173.1,1632.0) scale(1.012,1)" text-anchor="end">-0.2</text>
<text transform="translate(173.1,1756.2) scale(1.012,1)" text-anchor="end">-0.3</text>
<text transform="translate(173.1,1880.4) scale(1.012,1)" text-anchor="end">-0.4</text>
<text transform="translate(1194.2,1993.2) scale(1.012,1)" text-anchor="middle">Time(s)</text>
<text transform="translate(65.7,1489.4) rotate(-90) scale(1.012,1)" text-anchor="middle">Heave(m)</text>
</g>
<g fill="none" stroke="#0000ff" stroke-width="4.12">
<circle cx="194.5" cy="1311.5" r="8.95"/>
<circle cx="203.2" cy="1292.9" r="8.95"/>
<circle cx="206.0" cy="1274.4" r="8.95"/>
<circle cx="211.3" cy="1256.2" r="8.95"/>
<circle cx="214.4" cy="1237.0" r="8.95"/>
<circle cx="219.0" cy="1219.5" r="8.95"/>
<circle cx="223.2" cy="1201.3" r="8.95"/>
<circle cx="227.7" cy="1182.7" r="8.95"/>
<circle cx="231.9" cy="1164.2" r="8.95"/>
<circle cx="235.4" cy="1144.9" r="8.95"/>
<circle cx="256.8" cy="1125.7" r="8.95"/>
<circle cx="262.0" cy="1144.9" r="8.95"/>
<circle cx="265.2" cy="1164.2" r="8.95"/>
<circle cx="269.7" cy="1182.7" r="8.95"/>
<circle cx="274.3" cy="1201.3" r="8.95"/>
<circle cx="278.5" cy="1220.2" r="8.95"/>
<circle cx="282.7" cy="1275.4" r="8.95"/>
<circle cx="286.9" cy="1312.2" r="8.95"/>
<circle cx="291.1" cy="1349.6" r="8.95"/>
<circle cx="294.9" cy="1386.7" r="8.95"/>
<circle cx="294.9" cy="1424.1" r="8.95"/>
<circle cx="299.5" cy="1460.9" r="8.95"/>
<circle cx="299.5" cy="1479.4" r="8.95"/>
<circle cx="304.0" cy="1516.9" r="8.95"/>
<circle cx="308.2" cy="1554.3" r="8.95"/>
<circle cx="311.7" cy="1591.4" r="8.95"/>
<circle cx="315.9" cy="1609.6" r="8.95"/>
<circle cx="320.5" cy="1665.6" r="8.95"/>
<circle cx="324.7" cy="1702.3" r="8.95"/>
<circle cx="329.2" cy="1739.8" r="8.95"/>
<circle cx="333.4" cy="1758.3" r="8.95"/>
<circle cx="342.1" cy="1759.0" r="8.95"/>
<circle cx="350.9" cy="1739.8" r="8.95"/>
<circle cx="353.7" cy="1720.9" r="8.95"/>
<circle cx="358.2" cy="1702.3" r="8.95"/>
<circle cx="362.4" cy="1684.1" r="8.95"/>
<circle cx="367.0" cy="1665.6" r="8.95"/>
<circle cx="371.2" cy="1628.1" r="8.95"/>
<circle cx="374.7" cy="1591.4" r="8.95"/>
<circle cx="374.7" cy="1572.9" r="8.95"/>
<circle cx="378.9" cy="1554.3" r="8.95"/>
<circle cx="378.9" cy="1535.4" r="8.95"/>
<circle cx="383.4" cy="1516.9" r="8.95"/>
<circle cx="387.6" cy="1479.4" r="8.95"/>
<circle cx="387.6" cy="1460.9" r="8.95"/>
<circle cx="392.2" cy="1442.7" r="8.95"/>
<circle cx="392.2" cy="1405.6" r="8.95"/>
<circle cx="396.4" cy="1387.4" r="8.95"/>
<circle cx="400.2" cy="1350.7" r="8.95"/>
<circle cx="404.4" cy="1312.2" r="8.95"/>
<circle cx="409.0" cy="1294.7" r="8.95"/>
<circle cx="413.9" cy="1257.9" r="8.95"/>
<circle cx="417.7" cy="1239.8" r="8.95"/>
<circle cx="421.2" cy="1221.2" r="8.95"/>
<circle cx="426.1" cy="1202.0" r="8.95"/>
<circle cx="433.1" cy="1183.4" r="8.95"/>
<circle cx="446.4" cy="1182.7" r="8.95"/>
<circle cx="459.7" cy="1183.4" r="8.95"/>
<circle cx="468.1" cy="1202.7" r="8.95"/>
<circle cx="479.7" cy="1221.2" r="8.95"/>
<circle cx="497.2" cy="1221.9" r="8.95"/>
<circle cx="512.9" cy="1203.0" r="8.95"/>
<circle cx="543.3" cy="1192.5" r="8.95"/>
<circle cx="547.9" cy="1202.7" r="8.95"/>
<circle cx="553.1" cy="1203.7" r="8.95"/>
<circle cx="560.1" cy="1223.0" r="8.95"/>
<circle cx="564.3" cy="1241.5" r="8.95"/>
<circle cx="568.9" cy="1259.7" r="8.95"/>
<circle cx="573.1" cy="1278.2" r="8.95"/>
<circle cx="576.6" cy="1296.4" r="8.95"/>
<circle cx="581.1" cy="1315.0" r="8.95"/>
<circle cx="585.3" cy="1352.4" r="8.95"/>
<circle cx="589.9" cy="1371.0" r="8.95"/>
<circle cx="594.1" cy="1389.9" r="8.95"/>
<circle cx="597.9" cy="1426.6" r="8.95"/>
<circle cx="602.1" cy="1445.1" r="8.95"/>
<circle cx="606.3" cy="1463.3" r="8.95"/>
<circle cx="610.9" cy="1481.9" r="8.95"/>
<circle cx="615.1" cy="1518.6" r="8.95"/>
<circle cx="618.9" cy="1556.1" r="8.95"/>
<circle cx="623.1" cy="1574.6" r="8.95"/>
<circle cx="627.3" cy="1593.1" r="8.95"/>
<circle cx="631.2" cy="1612.0" r="8.95"/>
<circle cx="640.6" cy="1612.0" r="8.95"/>
<circle cx="649.4" cy="1612.0" r="8.95"/>
<circle cx="652.9" cy="1593.8" r="8.95"/>
<circle cx="661.6" cy="1574.6" r="8.95"/>
<circle cx="665.8" cy="1556.4" r="8.95"/>
<circle cx="669.7" cy="1537.9" r="8.95"/>
<circle cx="673.8" cy="1518.6" r="8.95"/>
<circle cx="678.0" cy="1500.1" r="8.95"/>
<circle cx="682.6" cy="1481.9" r="8.95"/>
<circle cx="686.1" cy="1445.1" r="8.95"/>
<circle cx="691.3" cy="1426.6" r="8.95"/>
<circle cx="694.8" cy="1408.4" r="8.95"/>
<circle cx="699.4" cy="1389.9" r="8.95"/>
<circle cx="703.6" cy="1371.0" r="8.95"/>
<circle cx="708.1" cy="1352.4" r="8.95"/>
<circle cx="711.6" cy="1333.9" r="8.95"/>
<circle cx="715.8" cy="1315.7" r="8.95"/>
<circle cx="720.0" cy="1297.1" r="8.95"/>
<circle cx="724.6" cy="1278.9" r="8.95"/>
<circle cx="728.8" cy="1261.4" r="8.95"/>
<circle cx="733.3" cy="1260.4" r="8.95"/>
<circle cx="730.5" cy="1261.4" r="8.95"/>
<circle cx="753.9" cy="1242.9" r="8.95"/>
<circle cx="762.7" cy="1242.9" r="8.95"/>
<circle cx="787.2" cy="1242.9" r="8.95"/>
<circle cx="817.3" cy="1239.8" r="8.95"/>
<circle cx="854.7" cy="1242.9" r="8.95"/>
<circle cx="858.9" cy="1261.4" r="8.95"/>
<circle cx="863.5" cy="1280.7" r="8.95"/>
<circle cx="871.2" cy="1299.2" r="8.95"/>
<circle cx="875.7" cy="1318.1" r="8.95"/>
<circle cx="879.9" cy="1336.7" r="8.95"/>
<circle cx="883.8" cy="1355.2" r="8.95"/>
<circle cx="887.9" cy="1374.1" r="8.95"/>
<circle cx="892.1" cy="1392.7" r="8.95"/>
<circle cx="896.7" cy="1411.2" r="8.95"/>
<circle cx="900.9" cy="1429.4" r="8.95"/>
<circle cx="904.4" cy="1447.6" r="8.95"/>
<circle cx="913.1" cy="1466.1" r="8.95"/>
<circle cx="921.9" cy="1485.4" r="8.95"/>
<circle cx="925.4" cy="1503.9" r="8.95"/>
<circle cx="929.9" cy="1522.8" r="8.95"/>
<circle cx="938.7" cy="1523.9" r="8.95"/>
<circle cx="947.4" cy="1523.9" r="8.95"/>
<circle cx="959.7" cy="1522.8" r="8.95"/>
<circle cx="967.7" cy="1503.9" r="8.95"/>
<circle cx="971.9" cy="1485.4" r="8.95"/>
<circle cx="976.5" cy="1466.8" r="8.95"/>
<circle cx="984.9" cy="1447.6" r="8.95"/>
<circle cx="988.7" cy="1429.4" r="8.95"/>
<circle cx="992.9" cy="1411.2" r="8.95"/>
<circle cx="998.2" cy="1392.7" r="8.95"/>
<circle cx="1003.4" cy="1392.7" r="8.95"/>
<circle cx="1006.2" cy="1374.1" r="8.95"/>
<circle cx="1010.4" cy="1355.2" r="8.95"/>
<circle cx="1018.5" cy="1336.7" r="8.95"/>
<circle cx="1026.9" cy="1319.2" r="8.95"/>
<circle cx="1034.9" cy="1300.6" r="8.95"/>
<circle cx="1043.7" cy="1282.4" r="8.95"/>
<circle cx="1052.4" cy="1282.4" r="8.95"/>
<circle cx="1055.9" cy="1263.9" r="8.95"/>
<circle cx="1064.6" cy="1263.9" r="8.95"/>
<circle cx="1073.4" cy="1245.7" r="8.95"/>
<circle cx="1082.1" cy="1245.7" r="8.95"/>
<circle cx="1090.9" cy="1245.7" r="8.95"/>
<circle cx="1110.1" cy="1227.5" r="8.95"/>
<circle cx="1129.4" cy="1227.5" r="8.95"/>
<circle cx="1137.1" cy="1227.5" r="8.95"/>
<circle cx="1145.1" cy="1245.7" r="8.95"/>
<circle cx="1153.9" cy="1245.7" r="8.95"/>
<circle cx="1162.6" cy="1263.9" r="8.95"/>
<circle cx="1170.7" cy="1282.4" r="8.95"/>
<circle cx="1179.1" cy="1301.7" r="8.95"/>
<circle cx="1183.6" cy="1320.9" r="8.95"/>
<circle cx="1187.8" cy="1339.1" r="8.95"/>
<circle cx="1195.9" cy="1357.7" r="8.95"/>
<circle cx="1200.1" cy="1376.9" r="8.95"/>
<circle cx="1208.1" cy="1394.4" r="8.95"/>
<circle cx="1212.7" cy="1413.7" r="8.95"/>
<circle cx="1221.0" cy="1431.8" r="8.95"/>
<circle cx="1229.1" cy="1450.4" r="8.95"/>
<circle cx="1237.1" cy="1469.6" r="8.95"/>
<circle cx="1254.3" cy="1469.6" r="8.95"/>
<circle cx="1263.0" cy="1469.6" r="8.95"/>
<circle cx="1284.0" cy="1451.4" r="8.95"/>
<circle cx="1287.5" cy="1432.9" r="8.95"/>
<circle cx="1300.4" cy="1414.4" r="8.95"/>
<circle cx="1308.5" cy="1396.2" r="8.95"/>
<circle cx="1316.5" cy="1378.0" r="8.95"/>
<circle cx="1320.7" cy="1359.4" r="8.95"/>
<circle cx="1333.7" cy="1340.9" r="8.95"/>
<circle cx="1346.3" cy="1322.7" r="8.95"/>
<circle cx="1358.5" cy="1304.1" r="8.95"/>
<circle cx="1367.3" cy="1285.2" r="8.95"/>
<circle cx="1376.0" cy="1285.2" r="8.95"/>
<circle cx="1384.4" cy="1266.7" r="8.95"/>
<circle cx="1396.7" cy="1266.7" r="8.95"/>
<circle cx="1413.5" cy="1248.5" r="8.95"/>
<circle cx="1431.0" cy="1248.5" r="8.95"/>
<circle cx="1442.1" cy="1267.4" r="8.95"/>
<circle cx="1455.4" cy="1267.4" r="8.95"/>
<circle cx="1464.2" cy="1285.9" r="8.95"/>
<circle cx="1468.7" cy="1304.5" r="8.95"/>
<circle cx="1476.4" cy="1304.5" r="8.95"/>
<circle cx="1485.2" cy="1323.4" r="8.95"/>
<circle cx="1489.4" cy="1341.9" r="8.95"/>
<circle cx="1498.1" cy="1360.5" r="8.95"/>
<circle cx="1506.9" cy="1378.7" r="8.95"/>
<circle cx="1514.9" cy="1397.9" r="8.95"/>
<circle cx="1522.6" cy="1416.5" r="8.95"/>
<circle cx="1531.7" cy="1434.6" r="8.95"/>
<circle cx="1540.5" cy="1434.6" r="8.95"/>
<circle cx="1548.2" cy="1453.9" r="8.95"/>
<circle cx="1561.1" cy="1453.9" r="8.95"/>
<circle cx="1573.7" cy="1453.9" r="8.95"/>
<circle cx="1581.4" cy="1435.3" r="8.95"/>
<circle cx="1590.9" cy="1417.2" r="8.95"/>
<circle cx="1598.9" cy="1417.2" r="8.95"/>
<circle cx="1606.9" cy="1398.6" r="8.95"/>
<circle cx="1615.7" cy="1379.7" r="8.95"/>
<circle cx="1628.6" cy="1361.2" r="8.95"/>
<circle cx="1640.9" cy="1342.6" r="8.95"/>
<circle cx="1648.9" cy="1323.7" r="8.95"/>
<circle cx="1661.9" cy="1306.9" r="8.95"/>
<circle cx="1678.7" cy="1288.7" r="8.95"/>
<circle cx="1687.1" cy="1288.7" r="8.95"/>
<circle cx="1703.9" cy="1270.2" r="8.95"/>
<circle cx="1724.9" cy="1270.2" r="8.95"/>
<circle cx="1751.1" cy="1270.2" r="8.95"/>
<circle cx="1762.7" cy="1288.7" r="8.95"/>
<circle cx="1775.6" cy="1306.9" r="8.95"/>
<circle cx="1787.8" cy="1325.5" r="8.95"/>
<circle cx="1796.6" cy="1343.7" r="8.95"/>
<circle cx="1705.2" cy="1270.2" r="8.95"/>
<circle cx="1725.2" cy="1270.2" r="8.95"/>
<circle cx="1763.0" cy="1290.1" r="8.95"/>
<circle cx="1775.2" cy="1307.6" r="8.95"/>
<circle cx="1787.5" cy="1326.2" r="8.95"/>
<circle cx="1796.2" cy="1344.7" r="8.95"/>
<circle cx="1804.3" cy="1362.9" r="8.95"/>
<circle cx="1812.7" cy="1381.1" r="8.95"/>
<circle cx="1825.3" cy="1381.1" r="8.95"/>
<circle cx="1833.7" cy="1400.4" r="8.95"/>
<circle cx="1842.8" cy="1400.4" r="8.95"/>
<circle cx="1851.2" cy="1419.6" r="8.95"/>
<circle cx="1862.7" cy="1419.6" r="8.95"/>
<circle cx="1880.2" cy="1419.6" r="8.95"/>
<circle cx="1897.7" cy="1400.7" r="8.95"/>
<circle cx="1922.9" cy="1383.2" r="8.95"/>
<circle cx="1930.9" cy="1364.7" r="8.95"/>
<circle cx="1943.2" cy="1365.7" r="8.95"/>
<circle cx="1956.1" cy="1346.1" r="8.95"/>
<circle cx="1964.9" cy="1327.9" r="8.95"/>
<circle cx="1973.6" cy="1327.9" r="8.95"/>
<circle cx="1981.7" cy="1309.7" r="8.95"/>
<circle cx="1999.2" cy="1309.7" r="8.95"/>
<circle cx="2010.7" cy="1291.2" r="8.95"/>
<circle cx="2023.7" cy="1292.2" r="8.95"/>
<circle cx="2044.6" cy="1292.2" r="8.95"/>
<circle cx="2069.8" cy="1310.4" r="8.95"/>
<circle cx="2082.1" cy="1329.0" r="8.95"/>
<circle cx="2098.9" cy="1348.2" r="8.95"/>
<circle cx="2119.9" cy="1366.4" r="8.95"/>
<circle cx="2136.7" cy="1384.6" r="8.95"/>
<circle cx="2157.7" cy="1403.2" r="8.95"/>
<circle cx="2179.4" cy="1403.9" r="8.95"/>
<circle cx="2191.6" cy="1403.9" r="8.95"/>
</g>
<path d="M191.7,1366.4L193.7,1362.0L195.7,1357.4L197.7,1352.4L199.7,1347.2L201.7,1341.8L203.7,1336.0L205.7,1329.5L207.7,1322.0L209.7,1313.4L211.7,1303.6L213.7,1292.7L215.7,1280.7L217.7,1267.7L219.7,1254.4L221.7,1241.6L223.7,1229.2L225.7,1217.3L227.7,1205.9L229.7,1195.1L231.7,1184.9L233.7,1175.4L235.7,1166.5L237.7,1158.4L239.7,1151.1L241.7,1144.6L243.7,1139.1L245.7,1134.4L247.7,1130.4L249.7,1127.2L251.7,1125.2L253.7,1124.7L255.7,1125.8L257.7,1128.2L259.7,1131.7L261.7,1136.8L263.7,1143.4L265.7,1151.3L267.7,1160.3L269.7,1170.9L271.7,1183.0L273.7,1196.5L275.7,1211.2L277.7,1226.7L279.7,1243.3L281.7,1261.0L283.7,1279.5L285.7,1298.8L287.7,1318.6L289.7,1338.6L291.7,1358.7L293.7,1378.7L295.7,1398.7L297.7,1418.7L299.7,1438.7L301.7,1458.7L303.7,1478.7L305.7,1498.7L307.7,1518.8L309.7,1538.8L311.7,1558.5L313.7,1577.6L315.7,1596.2L317.7,1614.4L319.7,1632.0L321.7,1648.8L323.7,1664.6L325.7,1679.4L327.7,1693.2L329.7,1706.1L331.7,1717.5L333.7,1727.2L335.7,1735.1L337.7,1741.5L339.7,1746.7L341.7,1750.2L343.7,1751.7L345.7,1751.4L347.7,1750.1L349.7,1747.6L351.7,1742.7L353.7,1735.1L355.7,1725.2L357.7,1714.0L359.7,1701.7L361.7,1688.2L363.7,1673.8L365.7,1658.4L367.7,1642.0L369.7,1624.6L371.7,1606.6L373.7,1588.1L375.7,1569.4L377.7,1550.7L379.7,1532.0L381.7,1513.3L383.7,1494.6L385.7,1476.0L387.7,1457.2L389.7,1438.5L391.7,1420.1L393.7,1402.1L395.7,1384.8L397.7,1367.9L399.7,1351.6L401.7,1335.7L403.7,1320.4L405.7,1305.6L407.7,1291.2L409.7,1277.3L411.7,1264.1L413.7,1251.7L415.7,1240.4L417.7,1230.3L419.7,1221.5L421.7,1213.9L423.7,1207.5L425.7,1202.0L427.7,1197.6L429.7,1193.9L431.7,1191.1L433.7,1189.0L435.7,1187.6L437.7,1186.9L439.7,1186.6L441.7,1186.4L443.7,1186.3L445.7,1186.6L447.7,1187.3L449.7,1188.5L451.7,1190.0L453.7,1191.9L455.7,1194.1L457.7,1196.8L459.7,1199.9L461.7,1203.0L463.7,1206.2L465.7,1209.4L467.7,1212.6L469.7,1215.8L471.7,1218.8L473.7,1221.7L475.7,1224.5L477.7,1227.0L479.7,1229.2L481.7,1231.1L483.7,1232.7L485.7,1233.9L487.7,1234.8L489.7,1235.3L491.7,1235.7L493.7,1235.8L495.7,1235.5L497.7,1234.9L499.7,1234.1L501.7,1233.1L503.7,1231.8L505.7,1230.3L507.7,1228.4L509.7,1226.3L511.7,1224.0L513.7,1221.4L515.7,1218.5L517.7,1215.6L519.7,1212.8L521.7,1210.0L523.7,1207.2L525.7,1204.6L527.7,1202.3L529.7,1200.3L531.7,1198.6L533.7,1197.0L535.7,1195.8L537.7,1195.0L539.7,1194.5L541.7,1194.1L543.7,1194.6L545.7,1196.4L547.7,1199.7L549.7,1203.7L551.7,1207.7L553.7,1211.6L555.7,1215.7L557.7,1219.8L559.7,1223.9L561.7,1228.1L563.7,1232.8L565.7,1238.4L567.7,1245.2L569.7,1253.2L571.7,1262.0L573.7,1271.2L575.7,1281.0L577.7,1291.2L579.7,1301.7L581.7,1312.4L583.7,1323.4L585.7,1334.6L587.7,1346.2L589.7,1358.2L591.7,1370.2L593.7,1382.3L595.7,1394.3L597.7,1406.3L599.7,1418.4L601.7,1430.4L603.7,1442.5L605.7,1454.5L607.7,1466.1L609.7,1477.5L611.7,1488.5L613.7,1499.3L615.7,1509.8L617.7,1520.0L619.7,1529.9L621.7,1539.1L623.7,1547.8L625.7,1555.8L627.7,1563.3L629.7,1570.1L631.7,1576.4L633.7,1582.2L635.7,1587.7L637.7,1592.8L639.7,1597.1L641.7,1600.3L643.7,1602.2L645.7,1603.1L647.7,1602.7L649.7,1601.1L651.7,1598.7L653.7,1595.5L655.7,1591.3L657.7,1586.1L659.7,1580.2L661.7,1573.9L663.7,1567.1L665.7,1559.7L667.7,1551.7L669.7,1543.1L671.7,1534.0L673.7,1524.6L675.7,1514.9L677.7,1505.0L679.7,1494.8L681.7,1484.3L683.7,1473.4L685.7,1462.4L687.7,1451.2L689.7,1440.1L691.7,1429.0L693.7,1418.2L695.7,1407.6L697.7,1397.3L699.7,1387.4L701.7,1377.7L703.7,1368.3L705.7,1359.2L707.7,1350.4L709.7,1341.8L711.7,1333.5L713.7,1325.5L715.7,1318.2L717.7,1311.5L719.7,1305.4L721.7,1299.7L723.7,1294.4L725.7,1289.4L727.7,1284.4L729.7,1278.7L731.7,1272.4L733.7,1266.7L735.7,1262.6L737.7,1260.2L739.7,1258.3L741.7,1256.8L743.7,1255.5L745.7,1254.4L747.7,1253.4L749.7,1252.6L751.7,1252.0L753.7,1251.4L755.7,1250.9L757.7,1250.4L759.7,1250.1L761.7,1250.0L763.7,1249.9L765.7,1250.0L767.7,1250.0L769.7,1250.1L771.7,1250.2L773.7,1250.4L775.7,1250.7L777.7,1251.0L779.7,1251.3L781.7,1251.5L783.7,1251.6L785.7,1251.6L787.7,1251.5L789.7,1251.3L791.7,1251.1L793.7,1250.9L795.7,1250.5L797.7,1249.9L799.7,1249.2L801.7,1248.4L803.7,1247.6L805.7,1246.7L807.7,1245.9L809.7,1245.0L811.7,1244.1L813.7,1243.2L815.7,1242.4L817.7,1241.5L819.7,1240.7L821.7,1240.1L823.7,1239.8L825.7,1239.6L827.7,1239.5L829.7,1239.4L831.7,1239.5L833.7,1239.7L835.7,1240.1L837.7,1240.9L839.7,1241.8L841.7,1242.9L843.7,1244.5L845.7,1246.5L847.7,1248.8L849.7,1251.4L851.7,1254.4L853.7,1257.8L855.7,1261.6L857.7,1265.7L859.7,1270.0L861.7,1274.5L863.7,1279.3L865.7,1284.4L867.7,1289.8L869.7,1295.5L871.7,1301.4L873.7,1307.6L875.7,1314.0L877.7,1320.5L879.7,1327.2L881.7,1334.1L883.7,1341.0L885.7,1348.1L887.7,1355.2L889.7,1362.5L891.7,1369.7L893.7,1377.0L895.7,1384.2L897.7,1391.4L899.7,1398.6L901.7,1405.7L903.7,1412.7L905.7,1419.6L907.7,1426.4L909.7,1433.1L911.7,1439.7L913.7,1446.2L915.7,1452.7L917.7,1459.0L919.7,1465.1L921.7,1471.0L923.7,1476.8L925.7,1482.3L927.7,1487.5L929.7,1492.5L931.7,1497.2L933.7,1501.6L935.7,1505.7L937.7,1509.4L939.7,1512.7L941.7,1515.7L943.7,1518.3L945.7,1520.4L947.7,1521.9L949.7,1522.4L951.7,1522.0L953.7,1520.9L955.7,1519.5L957.7,1517.6L959.7,1515.3L961.7,1512.3L963.7,1508.7L965.7,1504.6L967.7,1500.0L969.7,1494.9L971.7,1489.4L973.7,1483.6L975.7,1477.4L977.7,1470.9L979.7,1464.2L981.7,1457.3L983.7,1450.2L985.7,1443.0L987.7,1435.7L989.7,1428.4L991.7,1421.2L993.7,1414.0L995.7,1406.8L997.7,1399.6L999.7,1392.3L1001.7,1385.0L1003.7,1377.8L1005.7,1370.7L1007.7,1363.8L1009.7,1357.1L1011.7,1350.5L1013.7,1344.3L1015.7,1338.5L1017.7,1333.1L1019.7,1328.0L1021.7,1323.3L1023.7,1319.0L1025.7,1315.2L1027.7,1311.8L1029.7,1308.6L1031.7,1305.6L1033.7,1302.6L1035.7,1299.7L1037.7,1296.8L1039.7,1294.0L1041.7,1291.5L1043.7,1289.2L1045.7,1287.1L1047.7,1285.0L1049.7,1283.1L1051.7,1281.3L1053.7,1279.6L1055.7,1278.0L1057.7,1276.5L1059.7,1275.0L1061.7,1273.5L1063.7,1272.1L1065.7,1270.7L1067.7,1269.4L1069.7,1268.1L1071.7,1266.8L1073.7,1265.5L1075.7,1264.2L1077.7,1262.9L1079.7,1261.6L1081.7,1260.4L1083.7,1259.1L1085.7,1257.9L1087.7,1256.7L1089.7,1255.5L1091.7,1254.3L1093.7,1253.1L1095.7,1251.9L1097.7,1250.6L1099.7,1249.4L1101.7,1248.2L1103.7,1247.1L1105.7,1246.0L1107.7,1245.1L1109.7,1244.3L1111.7,1243.5L1113.7,1242.8L1115.7,1242.1L1117.7,1241.5L1119.7,1240.9L1121.7,1240.4L1123.7,1240.0L1125.7,1239.8L1127.7,1239.8L1129.7,1239.8L1131.7,1239.8L1133.7,1239.8L1135.7,1240.0L1137.7,1240.4L1139.7,1241.1L1141.7,1242.1L1143.7,1243.2L1145.7,1244.6L1147.7,1246.3L1149.7,1248.3L1151.7,1250.5L1153.7,1253.1L1155.7,1256.0L1157.7,1259.3L1159.7,1262.8L1161.7,1266.6L1163.7,1270.7L1165.7,1275.1L1167.7,1279.7L1169.7,1284.4L1171.7,1289.4L1173.7,1294.5L1175.7,1299.8L1177.7,1305.1L1179.7,1310.6L1181.7,1316.2L1183.7,1321.8L1185.7,1327.4L1187.7,1333.1L1189.7,1338.7L1191.7,1344.3L1193.7,1349.9L1195.7,1355.5L1197.7,1361.1L1199.7,1366.7L1201.7,1372.3L1203.7,1377.9L1205.7,1383.5L1207.7,1389.2L1209.7,1394.9L1211.7,1400.4L1213.7,1405.7L1215.7,1410.7L1217.7,1415.6L1219.7,1420.3L1221.7,1425.0L1223.7,1429.6L1225.7,1434.2L1227.7,1438.6L1229.7,1442.8L1231.7,1446.6L1233.7,1450.2L1235.7,1453.5L1237.7,1456.5L1239.7,1459.2L1241.7,1461.8L1243.7,1464.0L1245.7,1465.5L1247.7,1466.2L1249.7,1466.6L1251.7,1466.7L1253.7,1466.8L1255.7,1466.6L1257.7,1466.3L1259.7,1466.0L1261.7,1465.5L1263.7,1465.1L1265.7,1464.5L1267.7,1463.7L1269.7,1462.4L1271.7,1460.3L1273.7,1457.2L1275.7,1453.3L1277.7,1449.2L1279.7,1445.1L1281.7,1441.1L1283.7,1437.2L1285.7,1433.2L1287.7,1429.1L1289.7,1425.0L1291.7,1421.0L1293.7,1417.0L1295.7,1413.0L1297.7,1409.0L1299.7,1405.0L1301.7,1401.0L1303.7,1397.0L1305.7,1393.0L1307.7,1389.0L1309.7,1385.0L1311.7,1381.0L1313.7,1377.0L1315.7,1372.9L1317.7,1368.9L1319.7,1364.9L1321.7,1361.0L1323.7,1357.1L1325.7,1353.4L1327.7,1349.7L1329.7,1346.0L1331.7,1342.5L1333.7,1338.9L1335.7,1335.5L1337.7,1332.0L1339.7,1328.7L1341.7,1325.5L1343.7,1322.4L1345.7,1319.5L1347.7,1316.8L1349.7,1314.1L1351.7,1311.6L1353.7,1309.0L1355.7,1306.6L1357.7,1304.2L1359.7,1301.8L1361.7,1299.5L1363.7,1297.3L1365.7,1295.1L1367.7,1293.1L1369.7,1291.0L1371.7,1289.0L1373.7,1287.1L1375.7,1285.3L1377.7,1283.5L1379.7,1281.8L1381.7,1280.2L1383.7,1278.6L1385.7,1277.0L1387.7,1275.6L1389.7,1274.2L1391.7,1272.9L1393.7,1271.6L1395.7,1270.4L1397.7,1269.1L1399.7,1267.9L1401.7,1266.7L1403.7,1265.6L1405.7,1264.6L1407.7,1263.7L1409.7,1262.9L1411.7,1262.2L1413.7,1261.6L1415.7,1261.0L1417.7,1260.6L1419.7,1260.3L1421.7,1260.0L1423.7,1259.7L1425.7,1259.5L1427.7,1259.4L1429.7,1259.4L1431.7,1259.6L1433.7,1259.9L1435.7,1260.3L1437.7,1260.9L1439.7,1261.5L1441.7,1262.3L1443.7,1263.3L1445.7,1264.7L1447.7,1266.3L1449.7,1268.1L1451.7,1270.0L1453.7,1272.2L1455.7,1274.6L1457.7,1277.3L1459.7,1280.1L1461.7,1283.1L1463.7,1286.1L1465.7,1289.3L1467.7,1292.6L1469.7,1296.0L1471.7,1299.5L1473.7,1303.0L1475.7,1306.6L1477.7,1310.2L1479.7,1313.9L1481.7,1317.6L1483.7,1321.5L1485.7,1325.4L1487.7,1329.3L1489.7,1333.4L1491.7,1337.4L1493.7,1341.4L1495.7,1345.4L1497.7,1349.4L1499.7,1353.4L1501.7,1357.4L1503.7,1361.4L1505.7,1365.5L1507.7,1369.5L1509.7,1373.5L1511.7,1377.6L1513.7,1381.5L1515.7,1385.4L1517.7,1389.1L1519.7,1392.8L1521.7,1396.5L1523.7,1400.1L1525.7,1403.6L1527.7,1407.2L1529.7,1410.7L1531.7,1414.1L1533.7,1417.3L1535.7,1420.3L1537.7,1423.1L1539.7,1425.7L1541.7,1428.2L1543.7,1430.4L1545.7,1432.2L1547.7,1433.7L1549.7,1435.0L1551.7,1436.1L1553.7,1436.9L1555.7,1437.5L1557.7,1438.0L1559.7,1438.3L1561.7,1438.4L1563.7,1438.4L1565.7,1438.2L1567.7,1437.8L1569.7,1437.4L1571.7,1436.7L1573.7,1435.7L1575.7,1434.3L1577.7,1432.8L1579.7,1431.1L1581.7,1429.3L1583.7,1427.4L1585.7,1425.3L1587.7,1423.2L1589.7,1421.0L1591.7,1418.8L1593.7,1416.5L1595.7,1414.1L1597.7,1411.7L1599.7,1409.0L1601.7,1406.2L1603.7,1403.2L1605.7,1400.1L1607.7,1397.0L1609.7,1394.0L1611.7,1391.0L1613.7,1388.0L1615.7,1385.0L1617.7,1382.0L1619.7,1379.0L1621.7,1376.0L1623.7,1373.0L1625.7,1370.0L1627.7,1367.0L1629.7,1364.0L1631.7,1360.9L1633.7,1357.9L1635.7,1354.9L1637.7,1351.9L1639.7,1348.9L1641.7,1346.1L1643.7,1343.3L1645.7,1340.6L1647.7,1337.9L1649.7,1335.3L1651.7,1332.8L1653.7,1330.4L1655.7,1328.0L1657.7,1325.7L1659.7,1323.4L1661.7,1321.1L1663.7,1318.8L1665.7,1316.4L1667.7,1314.0L1669.7,1311.7L1671.7,1309.5L1673.7,1307.3L1675.7,1305.2L1677.7,1303.2L1679.7,1301.3L1681.7,1299.3L1683.7,1297.4L1685.7,1295.5L1687.7,1293.6L1689.7,1291.7L1691.7,1289.9L1693.7,1288.1L1695.7,1286.4L1697.7,1284.7L1699.7,1283.1L1701.7,1281.5L1703.7,1280.1L1705.7,1278.8L1707.7,1277.6L1709.7,1276.5L1711.7,1275.5L1713.7,1274.7L1715.7,1274.0L1717.7,1273.3L1719.7,1272.8L1721.7,1272.3L1723.7,1272.1L1725.7,1272.0L1727.7,1271.9L1729.7,1271.9L1731.7,1271.9L1733.7,1271.9L1735.7,1272.0L1737.7,1272.2L1739.7,1272.6L1741.7,1273.2L1743.7,1273.9L1745.7,1274.7L1747.7,1275.7L1749.7,1277.0L1751.7,1278.5L1753.7,1280.2L1755.7,1281.9L1757.7,1283.7L1759.7,1285.5L1761.7,1287.5L1763.7,1289.6L1765.7,1291.7L1767.7,1293.9L1769.7,1296.1L1771.7,1298.4L1773.7,1300.7L1775.7,1303.2L1777.7,1305.6L1779.7,1308.2L1781.7,1310.8L1783.7,1313.5L1785.7,1316.2L1787.7,1319.0L1789.7,1321.7L1791.7,1324.5L1793.7,1327.4L1795.7,1330.5L1797.7,1334.0L1799.7,1338.2L1801.7,1342.9L1803.7,1347.6L1805.7,1351.8L1807.7,1355.2L1809.7,1358.3L1811.7,1361.1L1813.7,1363.9L1815.7,1366.8L1817.7,1369.6L1819.7,1372.5L1821.7,1375.3L1823.7,1378.0L1825.7,1380.8L1827.7,1383.5L1829.7,1386.1L1831.7,1388.8L1833.7,1391.3L1835.7,1393.5L1837.7,1395.6L1839.7,1397.5L1841.7,1399.2L1843.7,1400.8L1845.7,1402.3L1847.7,1403.6L1849.7,1404.8L1851.7,1406.0L1853.7,1407.0L1855.7,1407.8L1857.7,1408.4L1859.7,1408.9L1861.7,1409.4L1863.7,1409.7L1865.7,1410.0L1867.7,1410.1L1869.7,1410.1L1871.7,1410.0L1873.7,1409.8L1875.7,1409.5L1877.7,1409.2L1879.7,1408.7L1881.7,1408.1L1883.7,1407.1L1885.7,1406.1L1887.7,1404.9L1889.7,1403.7L1891.7,1402.4L1893.7,1400.9L1895.7,1399.3L1897.7,1397.7L1899.7,1395.9L1901.7,1394.1L1903.7,1392.1L1905.7,1390.1L1907.7,1388.0L1909.7,1385.9L1911.7,1383.8L1913.7,1381.6L1915.7,1379.4L1917.7,1377.2L1919.7,1374.9L1921.7,1372.7L1923.7,1370.4L1925.7,1368.2L1927.7,1365.9L1929.7,1363.6L1931.7,1361.4L1933.7,1359.1L1935.7,1356.9L1937.7,1354.7L1939.7,1352.5L1941.7,1350.4L1943.7,1348.4L1945.7,1346.3L1947.7,1344.4L1949.7,1342.4L1951.7,1340.4L1953.7,1338.4L1955.7,1336.4L1957.7,1334.3L1959.7,1332.3L1961.7,1330.4L1963.7,1328.5L1965.7,1326.6L1967.7,1324.8L1969.7,1323.0L1971.7,1321.3L1973.7,1319.6L1975.7,1318.0L1977.7,1316.4L1979.7,1314.9L1981.7,1313.4L1983.7,1312.0L1985.7,1310.6L1987.7,1309.2L1989.7,1307.9L1991.7,1306.6L1993.7,1305.3L1995.7,1304.1L1997.7,1302.9L1999.7,1301.7L2001.7,1300.6L2003.7,1299.6L2005.7,1298.7L2007.7,1297.9L2009.7,1297.1L2011.7,1296.4L2013.7,1295.7L2015.7,1295.2L2017.7,1294.7L2019.7,1294.2L2021.7,1293.8L2023.7,1293.5L2025.7,1293.3L2027.7,1293.2L2029.7,1293.1L2031.7,1293.0L2033.7,1293.0L2035.7,1293.0L2037.7,1293.1L2039.7,1293.3L2041.7,1293.6L2043.7,1294.1L2045.7,1294.5L2047.7,1295.1L2049.7,1295.7L2051.7,1296.5L2053.7,1297.4L2055.7,1298.3L2057.7,1299.3L2059.7,1300.4L2061.7,1301.5L2063.7,1302.7L2065.7,1304.0L2067.7,1305.4L2069.7,1306.9L2071.7,1308.5L2073.7,1310.2L2075.7,1312.0L2077.7,1313.8L2079.7,1315.6L2081.7,1317.6L2083.7,1319.5L2085.7,1321.6L2087.7,1323.7L2089.7,1325.9L2091.7,1328.2L2093.7,1330.5L2095.7,1332.9L2097.7,1335.3L2099.7,1337.6L2101.7,1340.0L2103.7,1342.3L2105.7,1344.6L2107.7,1347.0L2109.7,1349.3L2111.7,1351.7L2113.7,1354.0L2115.7,1356.4L2117.7,1358.7L2119.7,1360.9L2121.7,1363.1L2123.7,1365.2L2125.7,1367.2L2127.7,1369.1L2129.7,1371.0L2131.7,1372.9L2133.7,1374.6L2135.7,1376.4L2137.7,1378.0L2139.7,1379.5L2141.7,1381.0L2143.7,1382.3L2145.7,1383.6L2147.7,1384.8L2149.7,1385.9L2151.7,1386.8L2153.7,1387.7L2155.7,1388.4L2157.7,1389.1L2159.7,1389.7L2161.7,1390.2L2163.7,1390.6L2165.7,1390.9L2167.7,1391.2L2169.7,1391.4L2171.7,1391.6L2173.7,1391.6L2175.7,1391.6L2177.7,1391.6L2179.7,1391.6L2181.7,1391.6L2183.7,1391.6L2185.7,1391.6L2187.7,1391.6L2188.1,1391.6" fill="none" stroke="#000" stroke-width="4.00" stroke-linejoin="round" stroke-linecap="butt"/>
<rect x="1745.1" y="1147.2" width="423.5" height="134.7" fill="#fff" stroke="#262626" stroke-width="3.72"/>
<circle cx="1798.9" cy="1182.2" r="9.31" fill="none" stroke="#0000ff" stroke-width="3.72"/>
<line x1="1754.0" y1="1246.0" x2="1846.8" y2="1246.0" stroke="#000" stroke-width="3.62"/>
<g font-family="'Liberation Serif', serif" font-size="54.32" fill="#000" stroke="#000" stroke-width="0.9">
<text transform="translate(1851.4,1200.4) scale(1.012,1)" text-anchor="start">Fast</text>
<text transform="translate(1851.4,1264.3) scale(1.012,1)" text-anchor="start">In house code</text>
</g>
<text x="2049.9" y="1756.0" text-anchor="middle" font-family="'Liberation Serif', serif" font-size="77.0" fill="#000" stroke="#000" stroke-width="0.6">(b)</text>
<g stroke="#262626" stroke-opacity="0.15" stroke-width="3.76" fill="none">
<line x1="384.6" y1="2243.0" x2="384.6" y2="2994.8"/>
<line x1="587.1" y1="2243.0" x2="587.1" y2="2994.8"/>
<line x1="789.7" y1="2243.0" x2="789.7" y2="2994.8"/>
<line x1="992.2" y1="2243.0" x2="992.2" y2="2994.8"/>
<line x1="1194.7" y1="2243.0" x2="1194.7" y2="2994.8"/>
<line x1="1397.2" y1="2243.0" x2="1397.2" y2="2994.8"/>
<line x1="1599.7" y1="2243.0" x2="1599.7" y2="2994.8"/>
<line x1="1802.3" y1="2243.0" x2="1802.3" y2="2994.8"/>
<line x1="2004.8" y1="2243.0" x2="2004.8" y2="2994.8"/>
<line x1="2207.3" y1="2243.0" x2="2207.3" y2="2994.8"/>
<line x1="182.1" y1="2243.0" x2="2209.3" y2="2243.0"/>
<line x1="182.1" y1="2618.9" x2="2209.3" y2="2618.9"/>
</g>
<g stroke="#262626" stroke-width="4.06" fill="none" stroke-linecap="butt">
<path d="M182.1,2242.3V2994.8H2209.3" stroke-linejoin="miter"/>
<line x1="384.6" y1="2994.8" x2="384.6" y2="2972.4"/>
<line x1="587.1" y1="2994.8" x2="587.1" y2="2972.4"/>
<line x1="789.7" y1="2994.8" x2="789.7" y2="2972.4"/>
<line x1="992.2" y1="2994.8" x2="992.2" y2="2972.4"/>
<line x1="1194.7" y1="2994.8" x2="1194.7" y2="2972.4"/>
<line x1="1397.2" y1="2994.8" x2="1397.2" y2="2972.4"/>
<line x1="1599.7" y1="2994.8" x2="1599.7" y2="2972.4"/>
<line x1="1802.3" y1="2994.8" x2="1802.3" y2="2972.4"/>
<line x1="2004.8" y1="2994.8" x2="2004.8" y2="2972.4"/>
<line x1="2207.3" y1="2994.8" x2="2207.3" y2="2972.4"/>
<line x1="182.1" y1="2243.0" x2="204.5" y2="2243.0"/>
<line x1="182.1" y1="2618.9" x2="204.5" y2="2618.9"/>
</g>
<g font-family="'Liberation Serif', serif" font-size="54.86" fill="#262626" stroke="#262626" stroke-width="0.6">
<text transform="translate(182.1,3061.9) scale(1.012,1)" text-anchor="middle">0</text>
<text transform="translate(384.6,3061.9) scale(1.012,1)" text-anchor="middle">20</text>
<text transform="translate(587.1,3061.9) scale(1.012,1)" text-anchor="middle">40</text>
<text transform="translate(789.7,3061.9) scale(1.012,1)" text-anchor="middle">60</text>
<text transform="translate(992.2,3061.9) scale(1.012,1)" text-anchor="middle">80</text>
<text transform="translate(1194.7,3061.9) scale(1.012,1)" text-anchor="middle">100</text>
<text transform="translate(1397.2,3061.9) scale(1.012,1)" text-anchor="middle">120</text>
<text transform="translate(1599.7,3061.9) scale(1.012,1)" text-anchor="middle">140</text>
<text transform="translate(1802.3,3061.9) scale(1.012,1)" text-anchor="middle">160</text>
<text transform="translate(2004.8,3061.9) scale(1.012,1)" text-anchor="middle">180</text>
<text transform="translate(2207.3,3061.9) scale(1.012,1)" text-anchor="middle">200</text>
<text transform="translate(163.5,2261.6) scale(1.012,1)" text-anchor="end">5</text>
<text transform="translate(163.5,2637.5) scale(1.012,1)" text-anchor="end">0</text>
<text transform="translate(163.5,3013.4) scale(1.012,1)" text-anchor="end">-5</text>
<text transform="translate(1194.7,3127.3) scale(1.012,1)" text-anchor="middle">Time(s)</text>
<text transform="translate(96.9,2618.9) rotate(-90) scale(1.012,1)" text-anchor="middle">Pitch(deg)</text>
</g>
<g fill="none" stroke="#0000ff" stroke-width="4.17">
<circle cx="187.1" cy="2252.4" r="9.04"/>
<circle cx="195.9" cy="2261.2" r="9.04"/>
<circle cx="197.9" cy="2266.6" r="9.04"/>
<circle cx="202.0" cy="2276.0" r="9.04"/>
<circle cx="206.0" cy="2286.2" r="9.04"/>
<circle cx="210.1" cy="2297.0" r="9.04"/>
<circle cx="214.6" cy="2310.5" r="9.04"/>
<circle cx="217.0" cy="2333.9" r="9.04"/>
<circle cx="221.1" cy="2357.1" r="9.04"/>
<circle cx="225.1" cy="2380.3" r="9.04"/>
<circle cx="229.2" cy="2403.5" r="9.04"/>
<circle cx="233.2" cy="2426.6" r="9.04"/>
<circle cx="237.3" cy="2461.4" r="9.04"/>
<circle cx="241.3" cy="2484.6" r="9.04"/>
<circle cx="245.4" cy="2519.4" r="9.04"/>
<circle cx="249.4" cy="2542.5" r="9.04"/>
<circle cx="253.5" cy="2577.3" r="9.04"/>
<circle cx="257.5" cy="2600.5" r="9.04"/>
<circle cx="261.6" cy="2635.3" r="9.04"/>
<circle cx="265.6" cy="2658.4" r="9.04"/>
<circle cx="269.7" cy="2693.2" r="9.04"/>
<circle cx="273.7" cy="2716.4" r="9.04"/>
<circle cx="277.8" cy="2751.2" r="9.04"/>
<circle cx="281.8" cy="2774.3" r="9.04"/>
<circle cx="285.9" cy="2797.5" r="9.04"/>
<circle cx="289.9" cy="2820.7" r="9.04"/>
<circle cx="294.0" cy="2843.9" r="9.04"/>
<circle cx="298.0" cy="2867.1" r="9.04"/>
<circle cx="302.1" cy="2890.2" r="9.04"/>
<circle cx="306.1" cy="2901.8" r="9.04"/>
<circle cx="310.2" cy="2913.4" r="9.04"/>
<circle cx="314.2" cy="2925.0" r="9.04"/>
<circle cx="318.3" cy="2936.6" r="9.04"/>
<circle cx="325.3" cy="2948.2" r="9.04"/>
<circle cx="335.5" cy="2948.2" r="9.04"/>
<circle cx="344.6" cy="2936.6" r="9.04"/>
<circle cx="350.7" cy="2925.0" r="9.04"/>
<circle cx="354.7" cy="2913.4" r="9.04"/>
<circle cx="358.8" cy="2901.8" r="9.04"/>
<circle cx="362.8" cy="2890.2" r="9.04"/>
<circle cx="366.9" cy="2878.6" r="9.04"/>
<circle cx="370.9" cy="2855.5" r="9.04"/>
<circle cx="375.0" cy="2843.9" r="9.04"/>
<circle cx="379.0" cy="2820.7" r="9.04"/>
<circle cx="383.1" cy="2797.5" r="9.04"/>
<circle cx="387.1" cy="2774.3" r="9.04"/>
<circle cx="391.2" cy="2751.2" r="9.04"/>
<circle cx="395.2" cy="2728.0" r="9.04"/>
<circle cx="399.3" cy="2704.8" r="9.04"/>
<circle cx="403.3" cy="2681.6" r="9.04"/>
<circle cx="407.4" cy="2658.4" r="9.04"/>
<circle cx="411.4" cy="2635.3" r="9.04"/>
<circle cx="415.5" cy="2612.1" r="9.04"/>
<circle cx="419.5" cy="2588.9" r="9.04"/>
<circle cx="423.6" cy="2565.7" r="9.04"/>
<circle cx="427.6" cy="2542.5" r="9.04"/>
<circle cx="431.7" cy="2530.9" r="9.04"/>
<circle cx="435.7" cy="2507.8" r="9.04"/>
<circle cx="439.8" cy="2484.6" r="9.04"/>
<circle cx="443.8" cy="2473.0" r="9.04"/>
<circle cx="447.9" cy="2449.8" r="9.04"/>
<circle cx="451.9" cy="2438.2" r="9.04"/>
<circle cx="456.0" cy="2426.6" r="9.04"/>
<circle cx="460.0" cy="2415.0" r="9.04"/>
<circle cx="464.1" cy="2403.5" r="9.04"/>
<circle cx="470.1" cy="2391.9" r="9.04"/>
<circle cx="479.2" cy="2380.3" r="9.04"/>
<circle cx="489.4" cy="2380.3" r="9.04"/>
<circle cx="498.5" cy="2391.9" r="9.04"/>
<circle cx="504.6" cy="2403.5" r="9.04"/>
<circle cx="508.6" cy="2415.0" r="9.04"/>
<circle cx="512.7" cy="2426.6" r="9.04"/>
<circle cx="516.7" cy="2438.2" r="9.04"/>
<circle cx="520.8" cy="2449.8" r="9.04"/>
<circle cx="524.8" cy="2461.4" r="9.04"/>
<circle cx="528.9" cy="2473.0" r="9.04"/>
<circle cx="532.9" cy="2496.2" r="9.04"/>
<circle cx="537.0" cy="2507.8" r="9.04"/>
<circle cx="541.0" cy="2530.9" r="9.04"/>
<circle cx="545.1" cy="2542.5" r="9.04"/>
<circle cx="549.1" cy="2565.7" r="9.04"/>
<circle cx="553.2" cy="2588.9" r="9.04"/>
<circle cx="557.2" cy="2600.5" r="9.04"/>
<circle cx="561.3" cy="2623.7" r="9.04"/>
<circle cx="565.3" cy="2646.8" r="9.04"/>
<circle cx="569.4" cy="2658.4" r="9.04"/>
<circle cx="573.4" cy="2681.6" r="9.04"/>
<circle cx="577.5" cy="2704.8" r="9.04"/>
<circle cx="581.5" cy="2716.4" r="9.04"/>
<circle cx="585.5" cy="2739.6" r="9.04"/>
<circle cx="589.6" cy="2751.2" r="9.04"/>
<circle cx="593.6" cy="2762.8" r="9.04"/>
<circle cx="597.7" cy="2785.9" r="9.04"/>
<circle cx="601.7" cy="2797.5" r="9.04"/>
<circle cx="605.8" cy="2809.1" r="9.04"/>
<circle cx="609.8" cy="2820.7" r="9.04"/>
<circle cx="615.9" cy="2832.3" r="9.04"/>
<circle cx="624.0" cy="2843.9" r="9.04"/>
<circle cx="632.1" cy="2855.5" r="9.04"/>
<circle cx="640.2" cy="2855.5" r="9.04"/>
<circle cx="650.3" cy="2843.9" r="9.04"/>
<circle cx="658.4" cy="2832.3" r="9.04"/>
<circle cx="662.5" cy="2820.7" r="9.04"/>
<circle cx="668.6" cy="2809.1" r="9.04"/>
<circle cx="674.6" cy="2797.5" r="9.04"/>
<circle cx="678.7" cy="2774.3" r="9.04"/>
<circle cx="682.7" cy="2762.8" r="9.04"/>
<circle cx="686.8" cy="2751.2" r="9.04"/>
<circle cx="690.8" cy="2739.6" r="9.04"/>
<circle cx="694.9" cy="2716.4" r="9.04"/>
<circle cx="698.9" cy="2704.8" r="9.04"/>
<circle cx="703.0" cy="2693.2" r="9.04"/>
<circle cx="707.0" cy="2670.0" r="9.04"/>
<circle cx="711.1" cy="2658.4" r="9.04"/>
<circle cx="715.1" cy="2635.3" r="9.04"/>
<circle cx="719.2" cy="2623.7" r="9.04"/>
<circle cx="723.2" cy="2600.5" r="9.04"/>
<circle cx="727.3" cy="2588.9" r="9.04"/>
<circle cx="731.3" cy="2577.3" r="9.04"/>
<circle cx="735.4" cy="2554.1" r="9.04"/>
<circle cx="739.4" cy="2542.5" r="9.04"/>
<circle cx="743.5" cy="2530.9" r="9.04"/>
<circle cx="747.5" cy="2519.4" r="9.04"/>
<circle cx="751.6" cy="2507.8" r="9.04"/>
<circle cx="755.6" cy="2496.2" r="9.04"/>
<circle cx="759.7" cy="2484.6" r="9.04"/>
<circle cx="765.8" cy="2473.0" r="9.04"/>
<circle cx="773.9" cy="2461.4" r="9.04"/>
<circle cx="782.0" cy="2449.8" r="9.04"/>
<circle cx="790.1" cy="2449.8" r="9.04"/>
<circle cx="798.2" cy="2449.8" r="9.04"/>
<circle cx="806.3" cy="2461.4" r="9.04"/>
<circle cx="814.4" cy="2473.0" r="9.04"/>
<circle cx="820.4" cy="2484.6" r="9.04"/>
<circle cx="824.5" cy="2496.2" r="9.04"/>
<circle cx="828.5" cy="2507.8" r="9.04"/>
<circle cx="832.6" cy="2519.4" r="9.04"/>
<circle cx="836.6" cy="2530.9" r="9.04"/>
<circle cx="840.7" cy="2542.5" r="9.04"/>
<circle cx="844.7" cy="2554.1" r="9.04"/>
<circle cx="848.8" cy="2565.7" r="9.04"/>
<circle cx="852.8" cy="2577.3" r="9.04"/>
<circle cx="856.9" cy="2588.9" r="9.04"/>
<circle cx="860.9" cy="2600.5" r="9.04"/>
<circle cx="865.0" cy="2623.7" r="9.04"/>
<circle cx="869.0" cy="2635.3" r="9.04"/>
<circle cx="873.1" cy="2646.8" r="9.04"/>
<circle cx="877.1" cy="2658.4" r="9.04"/>
<circle cx="881.2" cy="2670.0" r="9.04"/>
<circle cx="885.2" cy="2681.6" r="9.04"/>
<circle cx="889.3" cy="2693.2" r="9.04"/>
<circle cx="893.3" cy="2704.8" r="9.04"/>
<circle cx="897.4" cy="2716.4" r="9.04"/>
<circle cx="901.4" cy="2728.0" r="9.04"/>
<circle cx="905.5" cy="2739.6" r="9.04"/>
<circle cx="911.6" cy="2751.2" r="9.04"/>
<circle cx="919.7" cy="2762.8" r="9.04"/>
<circle cx="928.4" cy="2774.3" r="9.04"/>
<circle cx="937.9" cy="2774.3" r="9.04"/>
<circle cx="947.3" cy="2774.3" r="9.04"/>
<circle cx="956.1" cy="2762.8" r="9.04"/>
<circle cx="964.2" cy="2751.2" r="9.04"/>
<circle cx="972.3" cy="2739.6" r="9.04"/>
<circle cx="978.4" cy="2728.0" r="9.04"/>
<circle cx="982.4" cy="2716.4" r="9.04"/>
<circle cx="986.5" cy="2704.8" r="9.04"/>
<circle cx="992.6" cy="2693.2" r="9.04"/>
<circle cx="998.6" cy="2681.6" r="9.04"/>
<circle cx="1002.7" cy="2670.0" r="9.04"/>
<circle cx="1006.7" cy="2658.4" r="9.04"/>
<circle cx="1010.8" cy="2646.8" r="9.04"/>
<circle cx="1014.8" cy="2635.3" r="9.04"/>
<circle cx="1018.9" cy="2623.7" r="9.04"/>
<circle cx="1022.9" cy="2612.1" r="9.04"/>
<circle cx="1027.0" cy="2600.5" r="9.04"/>
<circle cx="1031.0" cy="2588.9" r="9.04"/>
<circle cx="1035.1" cy="2577.3" r="9.04"/>
<circle cx="1039.1" cy="2565.7" r="9.04"/>
<circle cx="1043.2" cy="2554.1" r="9.04"/>
<circle cx="1049.3" cy="2542.5" r="9.04"/>
<circle cx="1055.3" cy="2530.9" r="9.04"/>
<circle cx="1061.4" cy="2519.4" r="9.04"/>
<circle cx="1071.5" cy="2507.8" r="9.04"/>
<circle cx="1082.3" cy="2496.2" r="9.04"/>
<circle cx="1091.8" cy="2496.2" r="9.04"/>
<circle cx="1101.2" cy="2496.2" r="9.04"/>
<circle cx="1112.0" cy="2507.8" r="9.04"/>
<circle cx="1122.2" cy="2519.4" r="9.04"/>
<circle cx="1128.2" cy="2530.9" r="9.04"/>
<circle cx="1134.3" cy="2542.5" r="9.04"/>
<circle cx="1140.4" cy="2554.1" r="9.04"/>
<circle cx="1144.4" cy="2565.7" r="9.04"/>
<circle cx="1150.5" cy="2577.3" r="9.04"/>
<circle cx="1156.6" cy="2588.9" r="9.04"/>
<circle cx="1160.6" cy="2600.5" r="9.04"/>
<circle cx="1164.7" cy="2612.1" r="9.04"/>
<circle cx="1168.7" cy="2623.7" r="9.04"/>
<circle cx="1178.9" cy="2660.4" r="9.04"/>
<circle cx="1187.6" cy="2670.9" r="9.04"/>
<circle cx="1201.6" cy="2693.6" r="9.04"/>
<circle cx="1213.9" cy="2716.4" r="9.04"/>
<circle cx="1222.6" cy="2727.6" r="9.04"/>
<circle cx="1240.1" cy="2739.1" r="9.04"/>
<circle cx="1252.3" cy="2739.1" r="9.04"/>
<circle cx="1270.5" cy="2716.4" r="9.04"/>
<circle cx="1286.9" cy="2692.9" r="9.04"/>
<circle cx="1300.2" cy="2669.8" r="9.04"/>
<circle cx="1312.5" cy="2647.1" r="9.04"/>
<circle cx="1321.2" cy="2623.7" r="9.04"/>
<circle cx="1334.2" cy="2600.2" r="9.04"/>
<circle cx="1346.8" cy="2577.5" r="9.04"/>
<circle cx="1364.3" cy="2554.4" r="9.04"/>
<circle cx="1380.7" cy="2542.1" r="9.04"/>
<circle cx="1397.5" cy="2530.9" r="9.04"/>
<circle cx="1415.0" cy="2542.5" r="9.04"/>
<circle cx="1431.4" cy="2565.9" r="9.04"/>
<circle cx="1448.9" cy="2588.7" r="9.04"/>
<circle cx="1461.2" cy="2612.1" r="9.04"/>
<circle cx="1477.6" cy="2647.1" r="9.04"/>
<circle cx="1499.0" cy="2670.2" r="9.04"/>
<circle cx="1511.9" cy="2692.9" r="9.04"/>
<circle cx="1528.7" cy="2704.8" r="9.04"/>
<circle cx="1549.7" cy="2716.4" r="9.04"/>
<circle cx="1576.0" cy="2692.9" r="9.04"/>
<circle cx="1592.4" cy="2681.4" r="9.04"/>
<circle cx="1601.8" cy="2669.8" r="9.04"/>
<circle cx="1606.4" cy="2658.6" r="9.04"/>
<circle cx="1614.4" cy="2647.1" r="9.04"/>
<circle cx="1623.2" cy="2635.2" r="9.04"/>
<circle cx="1640.3" cy="2612.1" r="9.04"/>
<circle cx="1649.1" cy="2600.2" r="9.04"/>
<circle cx="1657.1" cy="2588.7" r="9.04"/>
<circle cx="1669.4" cy="2577.5" r="9.04"/>
<circle cx="1682.3" cy="2565.9" r="9.04"/>
<circle cx="1699.1" cy="2565.9" r="9.04"/>
<circle cx="1715.9" cy="2577.5" r="9.04"/>
<circle cx="1734.1" cy="2576.4" r="9.04"/>
<circle cx="1741.1" cy="2588.7" r="9.04"/>
<circle cx="1748.1" cy="2600.2" r="9.04"/>
<circle cx="1762.1" cy="2612.1" r="9.04"/>
<circle cx="1770.8" cy="2623.7" r="9.04"/>
<circle cx="1778.9" cy="2635.2" r="9.04"/>
<circle cx="1791.8" cy="2647.1" r="9.04"/>
<circle cx="1800.6" cy="2658.6" r="9.04"/>
<circle cx="1812.8" cy="2670.2" r="9.04"/>
<circle cx="1821.6" cy="2682.1" r="9.04"/>
<circle cx="1847.0" cy="2693.2" r="9.04"/>
<circle cx="1890.0" cy="2681.7" r="9.04"/>
<circle cx="1907.1" cy="2646.7" r="9.04"/>
<circle cx="1928.5" cy="2635.5" r="9.04"/>
<circle cx="1946.0" cy="2612.4" r="9.04"/>
<circle cx="1966.6" cy="2588.9" r="9.04"/>
<circle cx="1984.1" cy="2577.4" r="9.04"/>
<circle cx="2000.9" cy="2576.7" r="9.04"/>
<circle cx="2030.7" cy="2588.9" r="9.04"/>
<circle cx="2060.4" cy="2612.4" r="9.04"/>
<circle cx="2080.7" cy="2635.1" r="9.04"/>
<circle cx="2098.2" cy="2646.7" r="9.04"/>
<circle cx="2114.6" cy="2658.2" r="9.04"/>
<circle cx="2132.1" cy="2670.1" r="9.04"/>
<circle cx="2157.7" cy="2681.7" r="9.04"/>
<circle cx="2183.6" cy="2658.2" r="9.04"/>
<circle cx="2203.8" cy="2646.7" r="9.04"/>
</g>
<path d="M182.1,2243.2L184.1,2244.4L186.1,2246.2L188.1,2248.5L190.1,2251.4L192.1,2254.9L194.1,2259.0L196.1,2263.6L198.1,2268.7L200.1,2274.4L202.1,2280.6L204.1,2287.3L206.1,2294.6L208.1,2302.3L210.1,2310.5L212.1,2319.2L214.1,2328.4L216.1,2337.9L218.1,2347.9L220.1,2358.3L222.1,2369.1L224.1,2380.3L226.1,2391.8L228.1,2403.7L230.1,2415.8L232.1,2428.3L234.1,2441.0L236.1,2454.0L238.1,2467.2L240.1,2480.6L242.1,2494.2L244.1,2507.9L246.1,2521.8L248.1,2535.8L250.1,2549.9L252.1,2564.1L254.1,2578.3L256.1,2592.5L258.1,2606.7L260.1,2620.9L262.1,2635.0L264.1,2649.1L266.1,2663.1L268.1,2676.9L270.1,2690.6L272.1,2704.2L274.1,2717.5L276.1,2730.7L278.1,2743.6L280.1,2756.2L282.1,2768.6L284.1,2780.6L286.1,2792.4L288.1,2803.8L290.1,2814.9L292.1,2825.5L294.1,2835.8L296.1,2845.7L298.1,2855.1L300.1,2864.1L302.1,2872.7L304.1,2880.8L306.1,2888.3L308.1,2895.4L310.1,2902.0L312.1,2908.1L314.1,2913.6L316.1,2918.6L318.1,2923.0L320.1,2926.9L322.1,2930.2L324.1,2933.0L326.1,2935.1L328.1,2936.7L330.1,2937.7L332.1,2938.2L334.1,2938.1L336.1,2937.5L338.1,2936.4L340.1,2934.9L342.1,2932.9L344.1,2930.4L346.1,2927.5L348.1,2924.2L350.1,2920.3L352.1,2916.1L354.1,2911.4L356.1,2906.3L358.1,2900.7L360.1,2894.8L362.1,2888.4L364.1,2881.7L366.1,2874.6L368.1,2867.1L370.1,2859.3L372.1,2851.2L374.1,2842.7L376.1,2833.9L378.1,2824.8L380.1,2815.4L382.1,2805.8L384.1,2795.9L386.1,2785.8L388.1,2775.5L390.1,2764.9L392.1,2754.2L394.1,2743.4L396.1,2732.4L398.1,2721.2L400.1,2710.0L402.1,2698.7L404.1,2687.3L406.1,2675.9L408.1,2664.4L410.1,2652.9L412.1,2641.5L414.1,2630.1L416.1,2618.7L418.1,2607.4L420.1,2596.1L422.1,2585.0L424.1,2574.0L426.1,2563.2L428.1,2552.5L430.1,2542.0L432.1,2531.7L434.1,2521.6L436.1,2511.7L438.1,2502.1L440.1,2492.8L442.1,2483.7L444.1,2475.0L446.1,2466.5L448.1,2458.4L450.1,2450.6L452.1,2443.2L454.1,2436.1L456.1,2429.4L458.1,2423.1L460.1,2417.2L462.1,2411.7L464.1,2406.6L466.1,2402.0L468.1,2397.8L470.1,2394.0L472.1,2390.7L474.1,2387.8L476.1,2385.4L478.1,2383.4L480.1,2382.0L482.1,2380.9L484.1,2380.4L486.1,2380.3L488.1,2380.7L490.1,2381.4L492.1,2382.5L494.1,2384.0L496.1,2385.8L498.1,2388.1L500.1,2390.7L502.1,2393.7L504.1,2397.1L506.1,2400.8L508.1,2404.9L510.1,2409.3L512.1,2414.1L514.1,2419.2L516.1,2424.6L518.1,2430.3L520.1,2436.4L522.1,2442.7L524.1,2449.3L526.1,2456.2L528.1,2463.3L530.1,2470.7L532.1,2478.3L534.1,2486.2L536.1,2494.2L538.1,2502.5L540.1,2510.9L542.1,2519.5L544.1,2528.2L546.1,2537.1L548.1,2546.1L550.1,2555.2L552.1,2564.4L554.1,2573.7L556.1,2583.0L558.1,2592.4L560.1,2601.8L562.1,2611.2L564.1,2620.6L566.1,2630.0L568.1,2639.4L570.1,2648.7L572.1,2657.9L574.1,2667.1L576.1,2676.1L578.1,2685.0L580.1,2693.8L582.1,2702.5L584.1,2711.0L586.1,2719.3L588.1,2727.4L590.1,2735.4L592.1,2743.1L594.1,2750.6L596.1,2757.8L598.1,2764.8L600.1,2771.5L602.1,2778.0L604.1,2784.1L606.1,2790.0L608.1,2795.5L610.1,2800.7L612.1,2805.6L614.1,2810.2L616.1,2814.4L618.1,2818.3L620.1,2821.8L622.1,2824.9L624.1,2827.7L626.1,2830.1L628.1,2832.1L630.1,2833.8L632.1,2835.0L634.1,2835.9L636.1,2836.4L638.1,2836.5L640.1,2836.2L642.1,2835.7L644.1,2834.8L646.1,2833.6L648.1,2832.0L650.1,2830.1L652.1,2828.0L654.1,2825.5L656.1,2822.7L658.1,2819.6L660.1,2816.1L662.1,2812.4L664.1,2808.5L666.1,2804.2L668.1,2799.7L670.1,2794.9L672.1,2789.8L674.1,2784.5L676.1,2778.9L678.1,2773.2L680.1,2767.2L682.1,2760.9L684.1,2754.5L686.1,2747.9L688.1,2741.2L690.1,2734.2L692.1,2727.1L694.1,2719.9L696.1,2712.5L698.1,2705.0L700.1,2697.4L702.1,2689.7L704.1,2682.0L706.1,2674.1L708.1,2666.2L710.1,2658.3L712.1,2650.4L714.1,2642.4L716.1,2634.4L718.1,2626.5L720.1,2618.6L722.1,2610.7L724.1,2602.8L726.1,2595.1L728.1,2587.4L730.1,2579.8L732.1,2572.3L734.1,2565.0L736.1,2557.7L738.1,2550.6L740.1,2543.7L742.1,2536.9L744.1,2530.3L746.1,2523.9L748.1,2517.7L750.1,2511.8L752.1,2506.0L754.1,2500.4L756.1,2495.2L758.1,2490.1L760.1,2485.3L762.1,2480.8L764.1,2476.5L766.1,2472.6L768.1,2468.9L770.1,2465.5L772.1,2462.4L774.1,2459.6L776.1,2457.1L778.1,2455.0L780.1,2453.1L782.1,2451.6L784.1,2450.4L786.1,2449.5L788.1,2448.9L790.1,2448.7L792.1,2448.8L794.1,2449.2L796.1,2449.8L798.1,2450.7L800.1,2451.9L802.1,2453.4L804.1,2455.1L806.1,2457.1L808.1,2459.4L810.1,2461.9L812.1,2464.7L814.1,2467.8L816.1,2471.0L818.1,2474.6L820.1,2478.3L822.1,2482.3L824.1,2486.5L826.1,2491.0L828.1,2495.6L830.1,2500.4L832.1,2505.4L834.1,2510.6L836.1,2516.0L838.1,2521.5L840.1,2527.2L842.1,2533.0L844.1,2539.0L846.1,2545.1L848.1,2551.3L850.1,2557.5L852.1,2563.9L854.1,2570.4L856.1,2576.9L858.1,2583.5L860.1,2590.1L862.1,2596.8L864.1,2603.5L866.1,2610.1L868.1,2616.8L870.1,2623.5L872.1,2630.1L874.1,2636.7L876.1,2643.3L878.1,2649.8L880.1,2656.2L882.1,2662.6L884.1,2668.8L886.1,2675.0L888.1,2681.0L890.1,2686.9L892.1,2692.7L894.1,2698.3L896.1,2703.8L898.1,2709.1L900.1,2714.2L902.1,2719.1L904.1,2723.9L906.1,2728.4L908.1,2732.8L910.1,2736.9L912.1,2740.8L914.1,2744.5L916.1,2747.9L918.1,2751.1L920.1,2754.0L922.1,2756.7L924.1,2759.1L926.1,2761.3L928.1,2763.2L930.1,2764.8L932.1,2766.2L934.1,2767.3L936.1,2768.1L938.1,2768.6L940.1,2768.9L942.1,2768.9L944.1,2768.6L946.1,2768.1L948.1,2767.4L950.1,2766.5L952.1,2765.3L954.1,2763.9L956.1,2762.2L958.1,2760.4L960.1,2758.3L962.1,2756.1L964.1,2753.6L966.1,2750.9L968.1,2748.0L970.1,2744.9L972.1,2741.6L974.1,2738.1L976.1,2734.5L978.1,2730.6L980.1,2726.6L982.1,2722.5L984.1,2718.2L986.1,2713.7L988.1,2709.1L990.1,2704.4L992.1,2699.5L994.1,2694.6L996.1,2689.5L998.1,2684.3L1000.1,2679.0L1002.1,2673.7L1004.1,2668.3L1006.1,2662.8L1008.1,2657.3L1010.1,2651.7L1012.1,2646.1L1014.1,2640.4L1016.1,2634.8L1018.1,2629.1L1020.1,2623.4L1022.1,2617.8L1024.1,2612.1L1026.1,2606.6L1028.1,2601.0L1030.1,2595.5L1032.1,2590.0L1034.1,2584.7L1036.1,2579.4L1038.1,2574.1L1040.1,2569.0L1042.1,2564.0L1044.1,2559.1L1046.1,2554.3L1048.1,2549.6L1050.1,2545.1L1052.1,2540.7L1054.1,2536.5L1056.1,2532.4L1058.1,2528.5L1060.1,2524.8L1062.1,2521.2L1064.1,2517.9L1066.1,2514.7L1068.1,2511.7L1070.1,2508.9L1072.1,2506.3L1074.1,2504.0L1076.1,2501.8L1078.1,2499.9L1080.1,2498.1L1082.1,2496.6L1084.1,2495.4L1086.1,2494.3L1088.1,2493.5L1090.1,2492.9L1092.1,2492.5L1094.1,2492.4L1096.1,2492.5L1098.1,2492.8L1100.1,2493.3L1102.1,2494.0L1104.1,2494.9L1106.1,2496.0L1108.1,2497.3L1110.1,2498.8L1112.1,2500.5L1114.1,2502.3L1116.1,2504.4L1118.1,2506.6L1120.1,2509.0L1122.1,2511.6L1124.1,2514.4L1126.1,2517.3L1128.1,2520.4L1130.1,2523.7L1132.1,2527.1L1134.1,2530.6L1136.1,2534.3L1138.1,2538.1L1140.1,2542.0L1142.1,2546.1L1144.1,2550.2L1146.1,2554.5L1148.1,2558.8L1150.1,2563.3L1152.1,2567.8L1154.1,2572.4L1156.1,2577.1L1158.1,2581.8L1160.1,2586.6L1162.1,2591.4L1164.1,2596.2L1166.1,2601.1L1168.1,2606.0L1170.1,2610.9L1172.1,2615.7L1174.1,2620.6L1176.1,2625.5L1178.1,2630.3L1180.1,2635.1L1182.1,2639.9L1184.1,2644.6L1186.1,2649.2L1188.1,2653.8L1190.1,2658.3L1192.1,2662.7L1194.1,2667.0L1196.1,2671.3L1198.1,2675.4L1200.1,2679.4L1202.1,2683.3L1204.1,2687.0L1206.1,2690.7L1208.1,2694.1L1210.1,2697.5L1212.1,2700.7L1214.1,2703.7L1216.1,2706.6L1218.1,2709.3L1220.1,2711.8L1222.1,2714.2L1224.1,2716.4L1226.1,2718.4L1228.1,2720.2L1230.1,2721.8L1232.1,2723.2L1234.1,2724.4L1236.1,2725.5L1238.1,2726.3L1240.1,2726.9L1242.1,2727.3L1244.1,2727.6L1246.1,2727.6L1248.1,2727.4L1250.1,2727.1L1252.1,2726.6L1254.1,2726.0L1256.1,2725.2L1258.1,2724.2L1260.1,2723.0L1262.1,2721.7L1264.1,2720.3L1266.1,2718.7L1268.1,2716.9L1270.1,2715.0L1272.1,2712.9L1274.1,2710.7L1276.1,2708.4L1278.1,2705.9L1280.1,2703.3L1282.1,2700.6L1284.1,2697.7L1286.1,2694.7L1288.1,2691.7L1290.1,2688.5L1292.1,2685.2L1294.1,2681.8L1296.1,2678.3L1298.1,2674.7L1300.1,2671.1L1302.1,2667.4L1304.1,2663.6L1306.1,2659.8L1308.1,2655.9L1310.1,2652.0L1312.1,2648.0L1314.1,2644.0L1316.1,2640.0L1318.1,2635.9L1320.1,2631.9L1322.1,2627.8L1324.1,2623.8L1326.1,2619.7L1328.1,2615.7L1330.1,2611.7L1332.1,2607.7L1334.1,2603.8L1336.1,2599.9L1338.1,2596.0L1340.1,2592.2L1342.1,2588.5L1344.1,2584.8L1346.1,2581.3L1348.1,2577.7L1350.1,2574.3L1352.1,2571.0L1354.1,2567.8L1356.1,2564.7L1358.1,2561.7L1360.1,2558.8L1362.1,2556.0L1364.1,2553.4L1366.1,2550.8L1368.1,2548.5L1370.1,2546.2L1372.1,2544.1L1374.1,2542.2L1376.1,2540.3L1378.1,2538.7L1380.1,2537.2L1382.1,2535.8L1384.1,2534.6L1386.1,2533.6L1388.1,2532.7L1390.1,2532.0L1392.1,2531.5L1394.1,2531.1L1396.1,2530.9L1398.1,2530.9L1400.1,2531.0L1402.1,2531.3L1404.1,2531.7L1406.1,2532.3L1408.1,2533.0L1410.1,2533.8L1412.1,2534.8L1414.1,2535.9L1416.1,2537.2L1418.1,2538.6L1420.1,2540.1L1422.1,2541.8L1424.1,2543.6L1426.1,2545.5L1428.1,2547.5L1430.1,2549.7L1432.1,2552.0L1434.1,2554.3L1436.1,2556.8L1438.1,2559.4L1440.1,2562.1L1442.1,2564.9L1444.1,2567.8L1446.1,2570.8L1448.1,2573.8L1450.1,2576.9L1452.1,2580.1L1454.1,2583.4L1456.1,2586.7L1458.1,2590.0L1460.1,2593.4L1462.1,2596.9L1464.1,2600.4L1466.1,2603.9L1468.1,2607.4L1470.1,2611.0L1472.1,2614.5L1474.1,2618.1L1476.1,2621.7L1478.1,2625.3L1480.1,2628.8L1482.1,2632.3L1484.1,2635.9L1486.1,2639.3L1488.1,2642.8L1490.1,2646.2L1492.1,2649.5L1494.1,2652.8L1496.1,2656.1L1498.1,2659.2L1500.1,2662.4L1502.1,2665.4L1504.1,2668.3L1506.1,2671.2L1508.1,2674.0L1510.1,2676.7L1512.1,2679.2L1514.1,2681.7L1516.1,2684.1L1518.1,2686.3L1520.1,2688.5L1522.1,2690.5L1524.1,2692.4L1526.1,2694.2L1528.1,2695.8L1530.1,2697.3L1532.1,2698.7L1534.1,2700.0L1536.1,2701.1L1538.1,2702.0L1540.1,2702.9L1542.1,2703.5L1544.1,2704.1L1546.1,2704.5L1548.1,2704.7L1550.1,2704.8L1552.1,2704.8L1554.1,2704.6L1556.1,2704.3L1558.1,2703.8L1560.1,2703.3L1562.1,2702.6L1564.1,2701.8L1566.1,2700.8L1568.1,2699.8L1570.1,2698.6L1572.1,2697.3L1574.1,2695.9L1576.1,2694.3L1578.1,2692.7L1580.1,2690.9L1582.1,2689.1L1584.1,2687.1L1586.1,2685.1L1588.1,2682.9L1590.1,2680.7L1592.1,2678.3L1594.1,2675.9L1596.1,2673.4L1598.1,2670.8L1600.1,2668.2L1602.1,2665.5L1604.1,2662.7L1606.1,2659.9L1608.1,2657.1L1610.1,2654.1L1612.1,2651.2L1614.1,2648.2L1616.1,2645.2L1618.1,2642.1L1620.1,2639.1L1622.1,2636.0L1624.1,2632.9L1626.1,2629.8L1628.1,2626.7L1630.1,2623.6L1632.1,2620.6L1634.1,2617.5L1636.1,2614.5L1638.1,2611.5L1640.1,2608.6L1642.1,2605.6L1644.1,2602.8L1646.1,2600.0L1648.1,2597.2L1650.1,2594.5L1652.1,2591.9L1654.1,2589.3L1656.1,2586.8L1658.1,2584.4L1660.1,2582.0L1662.1,2579.8L1664.1,2577.6L1666.1,2575.6L1668.1,2573.6L1670.1,2571.8L1672.1,2570.0L1674.1,2568.4L1676.1,2566.8L1678.1,2565.4L1680.1,2564.1L1682.1,2562.9L1684.1,2561.9L1686.1,2560.9L1688.1,2560.1L1690.1,2559.4L1692.1,2558.9L1694.1,2558.4L1696.1,2558.1L1698.1,2557.9L1700.1,2557.9L1702.1,2558.0L1704.1,2558.2L1706.1,2558.5L1708.1,2558.9L1710.1,2559.4L1712.1,2560.0L1714.1,2560.7L1716.1,2561.6L1718.1,2562.5L1720.1,2563.6L1722.1,2564.7L1724.1,2566.0L1726.1,2567.3L1728.1,2568.7L1730.1,2570.3L1732.1,2571.9L1734.1,2573.6L1736.1,2575.4L1738.1,2577.3L1740.1,2579.2L1742.1,2581.3L1744.1,2583.4L1746.1,2585.5L1748.1,2587.8L1750.1,2590.1L1752.1,2592.4L1754.1,2594.8L1756.1,2597.2L1758.1,2599.7L1760.1,2602.3L1762.1,2604.8L1764.1,2607.4L1766.1,2610.0L1768.1,2612.7L1770.1,2615.3L1772.1,2618.0L1774.1,2620.6L1776.1,2623.3L1778.1,2626.0L1780.1,2628.7L1782.1,2631.3L1784.1,2633.9L1786.1,2636.6L1788.1,2639.2L1790.1,2641.7L1792.1,2644.2L1794.1,2646.7L1796.1,2649.2L1798.1,2651.6L1800.1,2653.9L1802.1,2656.2L1804.1,2658.5L1806.1,2660.6L1808.1,2662.7L1810.1,2664.8L1812.1,2666.7L1814.1,2668.6L1816.1,2670.4L1818.1,2672.1L1820.1,2673.7L1822.1,2675.3L1824.1,2676.7L1826.1,2678.1L1828.1,2679.3L1830.1,2680.5L1832.1,2681.5L1834.1,2682.5L1836.1,2683.3L1838.1,2684.1L1840.1,2684.7L1842.1,2685.2L1844.1,2685.6L1846.1,2685.9L1848.1,2686.1L1850.1,2686.2L1852.1,2686.2L1854.1,2686.0L1856.1,2685.8L1858.1,2685.5L1860.1,2685.1L1862.1,2684.6L1864.1,2684.0L1866.1,2683.3L1868.1,2682.6L1870.1,2681.7L1872.1,2680.7L1874.1,2679.7L1876.1,2678.6L1878.1,2677.4L1880.1,2676.1L1882.1,2674.7L1884.1,2673.3L1886.1,2671.8L1888.1,2670.2L1890.1,2668.6L1892.1,2666.9L1894.1,2665.1L1896.1,2663.2L1898.1,2661.4L1900.1,2659.4L1902.1,2657.4L1904.1,2655.4L1906.1,2653.3L1908.1,2651.2L1910.1,2649.0L1912.1,2646.8L1914.1,2644.6L1916.1,2642.3L1918.1,2640.1L1920.1,2637.8L1922.1,2635.5L1924.1,2633.2L1926.1,2630.9L1928.1,2628.5L1930.1,2626.2L1932.1,2623.9L1934.1,2621.6L1936.1,2619.3L1938.1,2617.1L1940.1,2614.8L1942.1,2612.6L1944.1,2610.4L1946.1,2608.2L1948.1,2606.1L1950.1,2604.0L1952.1,2602.0L1954.1,2600.0L1956.1,2598.0L1958.1,2596.2L1960.1,2594.3L1962.1,2592.5L1964.1,2590.8L1966.1,2589.2L1968.1,2587.6L1970.1,2586.1L1972.1,2584.7L1974.1,2583.3L1976.1,2582.0L1978.1,2580.8L1980.1,2579.7L1982.1,2578.7L1984.1,2577.7L1986.1,2576.8L1988.1,2576.1L1990.1,2575.4L1992.1,2574.8L1994.1,2574.3L1996.1,2573.9L1998.1,2573.6L2000.1,2573.4L2002.1,2573.2L2004.1,2573.2L2006.1,2573.3L2008.1,2573.4L2010.1,2573.6L2012.1,2573.9L2014.1,2574.3L2016.1,2574.8L2018.1,2575.3L2020.1,2575.9L2022.1,2576.6L2024.1,2577.4L2026.1,2578.2L2028.1,2579.1L2030.1,2580.1L2032.1,2581.2L2034.1,2582.3L2036.1,2583.5L2038.1,2584.8L2040.1,2586.1L2042.1,2587.5L2044.1,2588.9L2046.1,2590.4L2048.1,2591.9L2050.1,2593.5L2052.1,2595.1L2054.1,2596.8L2056.1,2598.5L2058.1,2600.3L2060.1,2602.1L2062.1,2603.9L2064.1,2605.8L2066.1,2607.7L2068.1,2609.6L2070.1,2611.5L2072.1,2613.4L2074.1,2615.4L2076.1,2617.3L2078.1,2619.3L2080.1,2621.2L2082.1,2623.2L2084.1,2625.2L2086.1,2627.1L2088.1,2629.0L2090.1,2631.0L2092.1,2632.9L2094.1,2634.8L2096.1,2636.6L2098.1,2638.4L2100.1,2640.2L2102.1,2642.0L2104.1,2643.7L2106.1,2645.4L2108.1,2647.1L2110.1,2648.7L2112.1,2650.2L2114.1,2651.7L2116.1,2653.2L2118.1,2654.5L2120.1,2655.9L2122.1,2657.1L2124.1,2658.4L2126.1,2659.5L2128.1,2660.6L2130.1,2661.6L2132.1,2662.5L2134.1,2663.4L2136.1,2664.1L2138.1,2664.9L2140.1,2665.5L2142.1,2666.0L2144.1,2666.5L2146.1,2666.9L2148.1,2667.2L2150.1,2667.5L2152.1,2667.6L2154.1,2667.7L2156.1,2667.7L2158.1,2667.6L2160.1,2667.5L2162.1,2667.2L2164.1,2666.9L2166.1,2666.6L2168.1,2666.2L2170.1,2665.7L2172.1,2665.1L2174.1,2664.4L2176.1,2663.7L2178.1,2663.0L2180.1,2662.2L2182.1,2661.3L2184.1,2660.3L2186.1,2659.3L2188.1,2658.2L2190.1,2657.1L2192.1,2655.9L2194.1,2654.7L2196.1,2653.4L2198.1,2652.1L2200.1,2650.7L2202.1,2649.3L2204.1,2647.9L2205.6,2646.8" fill="none" stroke="#000" stroke-width="4.00" stroke-linejoin="round" stroke-linecap="butt"/>
<rect x="1750.9" y="2273.3" width="427.7" height="136.0" fill="#fff" stroke="#262626" stroke-width="3.76"/>
<circle cx="1805.3" cy="2308.7" r="9.40" fill="none" stroke="#0000ff" stroke-width="3.76"/>
<line x1="1759.9" y1="2373.1" x2="1853.6" y2="2373.1" stroke="#000" stroke-width="3.66"/>
<g font-family="'Liberation Serif', serif" font-size="54.86" fill="#000" stroke="#000" stroke-width="0.9">
<text transform="translate(1858.3,2327.1) scale(1.012,1)" text-anchor="start">Fast</text>
<text transform="translate(1858.3,2391.6) scale(1.012,1)" text-anchor="start">In house code</text>
</g>
<text x="2090.0" y="2892.3" text-anchor="middle" font-family="'Liberation Serif', serif" font-size="75.0" fill="#000" stroke="#000" stroke-width="0.6">(c)</text>
</svg></body></html>
